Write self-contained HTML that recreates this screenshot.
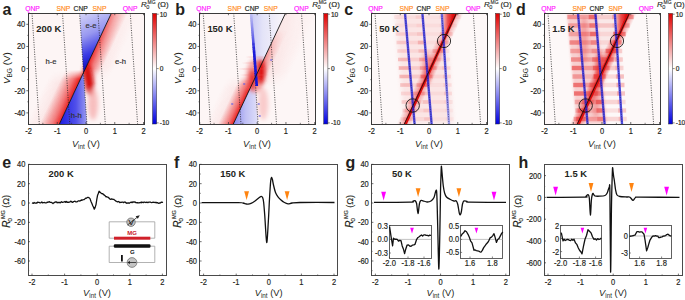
<!DOCTYPE html>
<html><head><meta charset="utf-8"><style>
html,body{margin:0;padding:0;background:#fff;overflow:hidden;}
svg{display:block;font-family:"Liberation Sans", sans-serif;}
</style></head><body>
<svg width="685" height="300" viewBox="0 0 685 300">
<defs><linearGradient id="cbgrad" x1="0" y1="0" x2="0" y2="1"><stop offset="0" stop-color="#e00000"/><stop offset="0.5" stop-color="#ffffff"/><stop offset="1" stop-color="#0000e0"/></linearGradient><linearGradient id="bwUp" x1="0" y1="0" x2="0.25" y2="1"><stop offset="0" stop-color="#d6d6f8"/><stop offset="0.4" stop-color="#9898f0"/><stop offset="0.7" stop-color="#3c3ce4"/><stop offset="1" stop-color="#0000b8"/></linearGradient><linearGradient id="bwUpB" x1="0" y1="0" x2="1" y2="0"><stop offset="0" stop-color="#c8c8f4"/><stop offset="0.35" stop-color="#e4e4f8"/><stop offset="1" stop-color="#fbf6fa"/></linearGradient><linearGradient id="bwLoB" x1="0" y1="0" x2="1" y2="0"><stop offset="0" stop-color="#8888ee"/><stop offset="0.5" stop-color="#c0c0f4"/><stop offset="1" stop-color="#e0e0fa"/></linearGradient><linearGradient id="bStreak" gradientUnits="userSpaceOnUse" x1="0" y1="13" x2="0" y2="86"><stop offset="0" stop-color="#c4c4f4"/><stop offset="0.3" stop-color="#7070ea"/><stop offset="0.55" stop-color="#1c1cdc"/><stop offset="1" stop-color="#1818d8"/></linearGradient><linearGradient id="bwLo" x1="0" y1="0" x2="1" y2="0"><stop offset="0" stop-color="#1c1ce0"/><stop offset="0.6" stop-color="#5050ea"/><stop offset="1" stop-color="#9c9cf0"/></linearGradient><linearGradient id="streakGrad" x1="0" y1="0" x2="1" y2="0"><stop offset="0" stop-color="#f08080" stop-opacity="0"/><stop offset="0.2" stop-color="#f06060"/><stop offset="0.8" stop-color="#f06060"/><stop offset="1" stop-color="#f08080" stop-opacity="0"/></linearGradient><linearGradient id="fadeBlue" gradientUnits="userSpaceOnUse" x1="0" y1="13" x2="0" y2="124"><stop offset="0" stop-color="#4a4ae8"/><stop offset="0.35" stop-color="#2424e4"/><stop offset="0.55" stop-color="#3a3ae6"/><stop offset="1" stop-color="#9a9af0"/></linearGradient><filter id="blurS" x="-50%" y="-50%" width="200%" height="200%"><feGaussianBlur stdDeviation="0.6"/></filter><filter id="blur1" x="-50%" y="-50%" width="200%" height="200%"><feGaussianBlur stdDeviation="1"/></filter><filter id="blur2" x="-50%" y="-50%" width="200%" height="200%"><feGaussianBlur stdDeviation="2"/></filter><filter id="blur3" x="-50%" y="-50%" width="200%" height="200%"><feGaussianBlur stdDeviation="3.5"/></filter><clipPath id="clipTop0"><rect x="28.5" y="13.2" width="116.0" height="110.8"/></clipPath><clipPath id="clipTop171"><rect x="199.7" y="13.2" width="116.0" height="110.8"/></clipPath><clipPath id="clipTop343"><rect x="371.5" y="13.2" width="116.0" height="110.8"/></clipPath><clipPath id="clipTop516"><rect x="544.5" y="13.2" width="116.0" height="110.8"/></clipPath><linearGradient id="ng1" gradientUnits="userSpaceOnUse" x1="95.09" y1="47.95" x2="118.63" y2="59"><stop offset="0" stop-color="#f4a8a8" stop-opacity="0.45"/><stop offset="0.35" stop-color="#f4a8a8" stop-opacity="0.24750000000000003"/><stop offset="1" stop-color="#f4a8a8" stop-opacity="0"/></linearGradient><linearGradient id="vg1" gradientUnits="userSpaceOnUse" x1="0" y1="13.2" x2="0" y2="82.7"><stop offset="0" stop-color="#fff" stop-opacity="0.4"/><stop offset="0.77" stop-color="#fff" stop-opacity="1"/><stop offset="1" stop-color="#fff" stop-opacity="0"/></linearGradient><mask id="mk1" maskUnits="userSpaceOnUse" x="0" y="0" width="685" height="300"><rect x="0" y="13.2" width="685" height="69.5" fill="url(#vg1)"/></mask><linearGradient id="ng2" gradientUnits="userSpaceOnUse" x1="71.91" y1="97.35" x2="44.75" y2="84.6"><stop offset="0" stop-color="#f4a8a8" stop-opacity="0.55"/><stop offset="0.35" stop-color="#f4a8a8" stop-opacity="0.30250000000000005"/><stop offset="1" stop-color="#f4a8a8" stop-opacity="0"/></linearGradient><linearGradient id="vg2" gradientUnits="userSpaceOnUse" x1="0" y1="70.7" x2="0" y2="124"><stop offset="0" stop-color="#fff" stop-opacity="0"/><stop offset="0.23" stop-color="#fff" stop-opacity="1"/><stop offset="1" stop-color="#fff" stop-opacity="0.8"/></linearGradient><mask id="mk2" maskUnits="userSpaceOnUse" x="0" y="0" width="685" height="300"><rect x="0" y="70.7" width="685" height="53.3" fill="url(#vg2)"/></mask><linearGradient id="ng3" gradientUnits="userSpaceOnUse" x1="95.56" y1="46.95" x2="109.14" y2="53.32"><stop offset="0" stop-color="#ea1a1a" stop-opacity="1.0"/><stop offset="0.35" stop-color="#ea1a1a" stop-opacity="0.55"/><stop offset="1" stop-color="#ea1a1a" stop-opacity="0"/></linearGradient><linearGradient id="vg3" gradientUnits="userSpaceOnUse" x1="0" y1="13.2" x2="0" y2="80.7"><stop offset="0" stop-color="#fff" stop-opacity="0.5"/><stop offset="0.47" stop-color="#fff" stop-opacity="0.8"/><stop offset="0.82" stop-color="#fff" stop-opacity="1"/><stop offset="1" stop-color="#fff" stop-opacity="0"/></linearGradient><mask id="mk3" maskUnits="userSpaceOnUse" x="0" y="0" width="685" height="300"><rect x="0" y="13.2" width="685" height="67.5" fill="url(#vg3)"/></mask><linearGradient id="ng4" gradientUnits="userSpaceOnUse" x1="72.14" y1="96.85" x2="55.85" y2="89.2"><stop offset="0" stop-color="#ea1a1a" stop-opacity="1.0"/><stop offset="0.35" stop-color="#ea1a1a" stop-opacity="0.55"/><stop offset="1" stop-color="#ea1a1a" stop-opacity="0"/></linearGradient><linearGradient id="vg4" gradientUnits="userSpaceOnUse" x1="0" y1="69.7" x2="0" y2="124"><stop offset="0" stop-color="#fff" stop-opacity="0"/><stop offset="0.17" stop-color="#fff" stop-opacity="1"/><stop offset="1" stop-color="#fff" stop-opacity="0.9"/></linearGradient><mask id="mk4" maskUnits="userSpaceOnUse" x="0" y="0" width="685" height="300"><rect x="0" y="69.7" width="685" height="54.3" fill="url(#vg4)"/></mask><linearGradient id="ng5" gradientUnits="userSpaceOnUse" x1="267.92" y1="50.51" x2="295.06" y2="63.29"><stop offset="0" stop-color="#f6b8b8" stop-opacity="0.5"/><stop offset="0.35" stop-color="#f6b8b8" stop-opacity="0.275"/><stop offset="1" stop-color="#f6b8b8" stop-opacity="0"/></linearGradient><linearGradient id="vg5" gradientUnits="userSpaceOnUse" x1="0" y1="13.2" x2="0" y2="87.82"><stop offset="0" stop-color="#fff" stop-opacity="0.4"/><stop offset="0.79" stop-color="#fff" stop-opacity="1"/><stop offset="1" stop-color="#fff" stop-opacity="0"/></linearGradient><mask id="mk5" maskUnits="userSpaceOnUse" x="0" y="0" width="685" height="300"><rect x="0" y="13.2" width="685" height="74.62" fill="url(#vg5)"/></mask><linearGradient id="ng6" gradientUnits="userSpaceOnUse" x1="264.91" y1="56.91" x2="273.95" y2="61.17"><stop offset="0" stop-color="#ea2a2a" stop-opacity="0.9"/><stop offset="0.35" stop-color="#ea2a2a" stop-opacity="0.49500000000000005"/><stop offset="1" stop-color="#ea2a2a" stop-opacity="0"/></linearGradient><linearGradient id="vg6" gradientUnits="userSpaceOnUse" x1="0" y1="30" x2="0" y2="83.82"><stop offset="0" stop-color="#fff" stop-opacity="0"/><stop offset="0.67" stop-color="#fff" stop-opacity="0.7"/><stop offset="0.85" stop-color="#fff" stop-opacity="1"/><stop offset="1" stop-color="#fff" stop-opacity="0"/></linearGradient><mask id="mk6" maskUnits="userSpaceOnUse" x="0" y="0" width="685" height="300"><rect x="0" y="30" width="685" height="53.82" fill="url(#vg6)"/></mask><linearGradient id="ng7" gradientUnits="userSpaceOnUse" x1="244.65" y1="99.91" x2="221.13" y2="88.83"><stop offset="0" stop-color="#f4a8a8" stop-opacity="0.45"/><stop offset="0.35" stop-color="#f4a8a8" stop-opacity="0.24750000000000003"/><stop offset="1" stop-color="#f4a8a8" stop-opacity="0"/></linearGradient><linearGradient id="vg7" gradientUnits="userSpaceOnUse" x1="0" y1="75.82" x2="0" y2="124"><stop offset="0" stop-color="#fff" stop-opacity="0"/><stop offset="0.25" stop-color="#fff" stop-opacity="1"/><stop offset="1" stop-color="#fff" stop-opacity="0.9"/></linearGradient><mask id="mk7" maskUnits="userSpaceOnUse" x="0" y="0" width="685" height="300"><rect x="0" y="75.82" width="685" height="48.18" fill="url(#vg7)"/></mask><linearGradient id="ng8" gradientUnits="userSpaceOnUse" x1="244.89" y1="99.41" x2="232.22" y2="93.44"><stop offset="0" stop-color="#ea1a1a" stop-opacity="1.0"/><stop offset="0.35" stop-color="#ea1a1a" stop-opacity="0.55"/><stop offset="1" stop-color="#ea1a1a" stop-opacity="0"/></linearGradient><linearGradient id="vg8" gradientUnits="userSpaceOnUse" x1="0" y1="74.82" x2="0" y2="124"><stop offset="0" stop-color="#fff" stop-opacity="0"/><stop offset="0.18" stop-color="#fff" stop-opacity="1"/><stop offset="1" stop-color="#fff" stop-opacity="0.95"/></linearGradient><mask id="mk8" maskUnits="userSpaceOnUse" x="0" y="0" width="685" height="300"><rect x="0" y="74.82" width="685" height="49.18" fill="url(#vg8)"/></mask><linearGradient id="ng9" gradientUnits="userSpaceOnUse" x1="430.35" y1="68.6" x2="436.68" y2="71.58"><stop offset="0" stop-color="#e41c1c" stop-opacity="0.658"/><stop offset="0.35" stop-color="#e41c1c" stop-opacity="0.36190000000000005"/><stop offset="1" stop-color="#e41c1c" stop-opacity="0"/></linearGradient><linearGradient id="vg9" gradientUnits="userSpaceOnUse" x1="0" y1="13.2" x2="0" y2="124"><stop offset="0" stop-color="#fff" stop-opacity="0.5"/><stop offset="0.49" stop-color="#fff" stop-opacity="1"/><stop offset="1" stop-color="#fff" stop-opacity="0.6"/></linearGradient><mask id="mk9" maskUnits="userSpaceOnUse" x="0" y="0" width="685" height="300"><rect x="0" y="13.2" width="685" height="110.8" fill="url(#vg9)"/></mask><linearGradient id="ng10" gradientUnits="userSpaceOnUse" x1="430.35" y1="68.6" x2="424.02" y2="65.62"><stop offset="0" stop-color="#e41c1c" stop-opacity="0.658"/><stop offset="0.35" stop-color="#e41c1c" stop-opacity="0.36190000000000005"/><stop offset="1" stop-color="#e41c1c" stop-opacity="0"/></linearGradient><linearGradient id="vg10" gradientUnits="userSpaceOnUse" x1="0" y1="13.2" x2="0" y2="124"><stop offset="0" stop-color="#fff" stop-opacity="0.5"/><stop offset="0.49" stop-color="#fff" stop-opacity="1"/><stop offset="1" stop-color="#fff" stop-opacity="0.6"/></linearGradient><mask id="mk10" maskUnits="userSpaceOnUse" x="0" y="0" width="685" height="300"><rect x="0" y="13.2" width="685" height="110.8" fill="url(#vg10)"/></mask><linearGradient id="wg11" gradientUnits="userSpaceOnUse" x1="453.2" y1="20" x2="442.24" y2="20"><stop offset="0" stop-color="#e01010"/><stop offset="0.5" stop-color="#ec5050"/><stop offset="1" stop-color="#f4a8a8" stop-opacity="0.6"/></linearGradient><linearGradient id="ng12" gradientUnits="userSpaceOnUse" x1="603.35" y1="68.6" x2="609.68" y2="71.58"><stop offset="0" stop-color="#e41c1c" stop-opacity="1.0"/><stop offset="0.35" stop-color="#e41c1c" stop-opacity="0.55"/><stop offset="1" stop-color="#e41c1c" stop-opacity="0"/></linearGradient><linearGradient id="vg12" gradientUnits="userSpaceOnUse" x1="0" y1="13.2" x2="0" y2="124"><stop offset="0" stop-color="#fff" stop-opacity="0.5"/><stop offset="0.49" stop-color="#fff" stop-opacity="1"/><stop offset="1" stop-color="#fff" stop-opacity="0.6"/></linearGradient><mask id="mk12" maskUnits="userSpaceOnUse" x="0" y="0" width="685" height="300"><rect x="0" y="13.2" width="685" height="110.8" fill="url(#vg12)"/></mask><linearGradient id="ng13" gradientUnits="userSpaceOnUse" x1="603.35" y1="68.6" x2="597.02" y2="65.62"><stop offset="0" stop-color="#e41c1c" stop-opacity="1.0"/><stop offset="0.35" stop-color="#e41c1c" stop-opacity="0.55"/><stop offset="1" stop-color="#e41c1c" stop-opacity="0"/></linearGradient><linearGradient id="vg13" gradientUnits="userSpaceOnUse" x1="0" y1="13.2" x2="0" y2="124"><stop offset="0" stop-color="#fff" stop-opacity="0.5"/><stop offset="0.49" stop-color="#fff" stop-opacity="1"/><stop offset="1" stop-color="#fff" stop-opacity="0.6"/></linearGradient><mask id="mk13" maskUnits="userSpaceOnUse" x="0" y="0" width="685" height="300"><rect x="0" y="13.2" width="685" height="110.8" fill="url(#vg13)"/></mask><linearGradient id="wg14" gradientUnits="userSpaceOnUse" x1="626.2" y1="20" x2="615.24" y2="20"><stop offset="0" stop-color="#e01010"/><stop offset="0.5" stop-color="#ec5050"/><stop offset="1" stop-color="#f4a8a8" stop-opacity="0.6"/></linearGradient></defs>
<rect width="685" height="300" fill="#fff"/>
<g clip-path="url(#clipTop0)">
<rect x="28.5" y="13.2" width="116.0" height="110.8" fill="#fdf5f5"/>
<path d="M111.4,13.2 L78.78,82.7 L120.38,82.7 L153,13.2 Z" fill="url(#ng1)" mask="url(#mk1)"/>
<path d="M84.41,70.7 L59.4,124 L11.4,124 L36.41,70.7 Z" fill="url(#ng2)" mask="url(#mk2)"/>
<path d="M111.4,13.2 L79.72,80.7 L103.72,80.7 L135.4,13.2 Z" fill="url(#ng3)" mask="url(#mk3)"/>
<path d="M84.88,69.7 L59.4,124 L30.6,124 L56.08,69.7 Z" fill="url(#ng4)" mask="url(#mk4)"/>
<g filter="url(#blur2)">
<ellipse cx="88.8" cy="80" rx="4.8" ry="16" fill="#d40808" transform="rotate(-8 88.8 80)"/>
<ellipse cx="93" cy="104" rx="5" ry="16" fill="#f6b0b0" opacity="0.8"/>
</g>
<path d="M79.6,13.2 L111.4,13.2 L83.48,72.7Z" fill="url(#bwUp)" />
<path d="M83.48,72.7 L59.4,124 L86.9,124Z" fill="url(#bwLo)" />
<line x1="32" y1="13.2" x2="39.3" y2="124.0" stroke="#222" stroke-width="0.75" stroke-dasharray="1.1,1.3"/>
<line x1="62.5" y1="13.2" x2="69.8" y2="124.0" stroke="#222" stroke-width="0.75" stroke-dasharray="1.1,1.3"/>
<line x1="79.6" y1="13.2" x2="86.9" y2="124.0" stroke="#222" stroke-width="0.75" stroke-dasharray="1.1,1.3"/>
<line x1="98" y1="13.2" x2="105.3" y2="124.0" stroke="#222" stroke-width="0.75" stroke-dasharray="1.1,1.3"/>
<line x1="130.3" y1="13.2" x2="137.6" y2="124.0" stroke="#222" stroke-width="0.75" stroke-dasharray="1.1,1.3"/>
<line x1="111.4" y1="13.2" x2="59.4" y2="124.0" stroke="#111" stroke-width="0.9"/>
<text x="85.6" y="27.6" font-size="7.6" text-anchor="start" font-weight="normal" fill="#333" stroke="#333" stroke-width="0.18" font-style="normal" >e-e</text>
<text x="45.6" y="64.4" font-size="7.6" text-anchor="start" font-weight="normal" fill="#333" stroke="#333" stroke-width="0.18" font-style="normal" >h-e</text>
<text x="115" y="64.4" font-size="7.6" text-anchor="start" font-weight="normal" fill="#333" stroke="#333" stroke-width="0.18" font-style="normal" >e-h</text>
<text x="70.8" y="117.8" font-size="7.6" text-anchor="start" font-weight="normal" fill="#333" stroke="#333" stroke-width="0.18" font-style="normal" >h-h</text>
</g>
<g clip-path="url(#clipTop171)">
<rect x="199.7" y="13.2" width="116.0" height="110.8" fill="#fdf6f6"/>
<path d="M250.8,13.2 L285.5,13.2 L255.06,77.82Z" fill="url(#bwUpB)" />
<path d="M255.06,77.82 L233.3,124 L258.1,124Z" fill="url(#bwLoB)" />
<path d="M285.5,13.2 L250.35,87.82 L298.35,87.82 L333.5,13.2 Z" fill="url(#ng5)" mask="url(#mk5)"/>
<path d="M277.59,30 L252.23,83.82 L268.23,83.82 L293.59,30 Z" fill="url(#ng6)" mask="url(#mk6)"/>
<path d="M256,75.82 L233.3,124 L191.7,124 L214.4,75.82 Z" fill="url(#ng7)" mask="url(#mk7)"/>
<path d="M256.47,74.82 L233.3,124 L210.9,124 L234.07,74.82 Z" fill="url(#ng8)" mask="url(#mk8)"/>
<g filter="url(#blur2)">
<ellipse cx="255.2" cy="76" rx="9" ry="17" fill="#f28a8a" opacity="0.75"/>
<ellipse cx="260.7" cy="72" rx="4.2" ry="13" fill="#dc0c0c"/>
<ellipse cx="252.2" cy="80" rx="3.6" ry="11" fill="#e42020" opacity="0.9"/>
<ellipse cx="263.2" cy="104" rx="5" ry="16" fill="#f7c0c0" opacity="0.8"/>
</g>
<rect x="245.2" y="56" width="22" height="2" fill="url(#streakGrad)" opacity="0.1"/>
<rect x="241.2" y="62" width="28" height="2" fill="url(#streakGrad)" opacity="0.12"/>
<rect x="237.2" y="68" width="32" height="2" fill="url(#streakGrad)" opacity="0.14"/>
<rect x="239.2" y="74" width="30" height="2" fill="url(#streakGrad)" opacity="0.14"/>
<rect x="241.2" y="80" width="26" height="2" fill="url(#streakGrad)" opacity="0.12"/>
<rect x="243.2" y="87" width="20" height="2" fill="url(#streakGrad)" opacity="0.1"/>
<line x1="203.2" y1="13.2" x2="210.5" y2="124.0" stroke="#222" stroke-width="0.75" stroke-dasharray="1.1,1.3"/>
<line x1="233.7" y1="13.2" x2="241" y2="124.0" stroke="#222" stroke-width="0.75" stroke-dasharray="1.1,1.3"/>
<line x1="250.8" y1="13.2" x2="258.1" y2="124.0" stroke="#222" stroke-width="0.75" stroke-dasharray="1.1,1.3"/>
<line x1="269.2" y1="13.2" x2="276.5" y2="124.0" stroke="#222" stroke-width="0.75" stroke-dasharray="1.1,1.3"/>
<line x1="301.5" y1="13.2" x2="308.8" y2="124.0" stroke="#222" stroke-width="0.75" stroke-dasharray="1.1,1.3"/>
<path d="M251,13 L256.8,86" stroke="url(#bStreak)" stroke-width="2.6" fill="none" filter="url(#blurS)"/>
<path d="M253.4,43 L256.8,86" stroke="#0a0ad0" stroke-width="2.6" fill="none" stroke-dasharray="2.2,1.6" opacity="0.25"/>
<rect x="257.7" y="103" width="2" height="2" fill="#6060e8" opacity="0.6"/>
<rect x="258.7" y="115" width="2" height="2" fill="#6060e8" opacity="0.6"/>
<rect x="243.2" y="83" width="2" height="2" fill="#6060e8" opacity="0.6"/>
<rect x="231.2" y="103" width="2" height="2" fill="#6060e8" opacity="0.6"/>
<rect x="270.2" y="59" width="2" height="2" fill="#6060e8" opacity="0.6"/>
<line x1="285.5" y1="13.2" x2="233.3" y2="124.0" stroke="#111" stroke-width="0.9"/>
</g>
<g clip-path="url(#clipTop343)">
<rect x="371.5" y="13.2" width="116.0" height="110.8" fill="#fdf8f8"/>
<path d="M395,13.2 L445.8,13.2 L453,124 L404.6,124Z" fill="#f6c4c4" opacity="0.35" filter="url(#blur2)"/>
<g filter="url(#blurS)">
<rect x="394.33" y="15.2" width="12" height="3.6" fill="#e83838" opacity="0.08"/>
<rect x="406.33" y="15.2" width="15.39" height="3.6" fill="#e83838" opacity="0.04"/>
<rect x="415.72" y="15.2" width="8" height="3.6" fill="#e83838" opacity="0.1"/>
<rect x="423.72" y="15.2" width="17.33" height="3.6" fill="#e83838" opacity="0.02"/>
<rect x="439.05" y="15.2" width="8" height="3.6" fill="#e83838" opacity="0.05"/>
<rect x="448.61" y="15.2" width="12" height="3.6" fill="#e83838" opacity="0.08"/>
<rect x="395.07" y="23.7" width="12" height="3.6" fill="#e83838" opacity="0.07"/>
<rect x="407.07" y="23.7" width="15.36" height="3.6" fill="#e83838" opacity="0.07"/>
<rect x="416.42" y="23.7" width="8" height="3.6" fill="#e83838" opacity="0.06"/>
<rect x="424.42" y="23.7" width="17.18" height="3.6" fill="#e83838" opacity="0.04"/>
<rect x="439.6" y="23.7" width="8" height="3.6" fill="#e83838" opacity="0.04"/>
<rect x="444.62" y="23.7" width="12" height="3.6" fill="#e83838" opacity="0.07"/>
<rect x="395.8" y="32.2" width="12" height="3.6" fill="#e83838" opacity="0.14"/>
<rect x="407.8" y="32.2" width="15.32" height="3.6" fill="#e83838" opacity="0.11"/>
<rect x="417.13" y="32.2" width="8" height="3.6" fill="#e83838" opacity="0.09"/>
<rect x="425.13" y="32.2" width="17.02" height="3.6" fill="#e83838" opacity="0.04"/>
<rect x="440.15" y="32.2" width="8" height="3.6" fill="#e83838" opacity="0.08"/>
<rect x="440.62" y="32.2" width="12" height="3.6" fill="#e83838" opacity="0.17"/>
<rect x="396.54" y="40.7" width="12" height="3.6" fill="#e83838" opacity="0.19"/>
<rect x="408.54" y="40.7" width="15.29" height="3.6" fill="#e83838" opacity="0.1"/>
<rect x="417.83" y="40.7" width="8" height="3.6" fill="#e83838" opacity="0.22"/>
<rect x="425.83" y="40.7" width="16.87" height="3.6" fill="#e83838" opacity="0.04"/>
<rect x="440.7" y="40.7" width="8" height="3.6" fill="#e83838" opacity="0.11"/>
<rect x="436.62" y="40.7" width="12" height="3.6" fill="#e83838" opacity="0.13"/>
<rect x="397.28" y="49.2" width="12" height="3.6" fill="#e83838" opacity="0.15"/>
<rect x="409.28" y="49.2" width="15.26" height="3.6" fill="#e83838" opacity="0.09"/>
<rect x="418.54" y="49.2" width="8" height="3.6" fill="#e83838" opacity="0.16"/>
<rect x="426.54" y="49.2" width="16.72" height="3.6" fill="#e83838" opacity="0.09"/>
<rect x="441.26" y="49.2" width="8" height="3.6" fill="#e83838" opacity="0.08"/>
<rect x="432.63" y="49.2" width="12" height="3.6" fill="#e83838" opacity="0.2"/>
<rect x="398.01" y="57.7" width="12" height="3.6" fill="#e83838" opacity="0.27"/>
<rect x="410.01" y="57.7" width="15.23" height="3.6" fill="#e83838" opacity="0.13"/>
<rect x="419.24" y="57.7" width="8" height="3.6" fill="#e83838" opacity="0.23"/>
<rect x="427.24" y="57.7" width="16.56" height="3.6" fill="#e83838" opacity="0.06"/>
<rect x="441.81" y="57.7" width="8" height="3.6" fill="#e83838" opacity="0.08"/>
<rect x="428.63" y="57.7" width="12" height="3.6" fill="#e83838" opacity="0.17"/>
<rect x="398.75" y="66.2" width="12" height="3.6" fill="#e83838" opacity="0.32"/>
<rect x="410.75" y="66.2" width="15.2" height="3.6" fill="#e83838" opacity="0.16"/>
<rect x="419.95" y="66.2" width="8" height="3.6" fill="#e83838" opacity="0.21"/>
<rect x="427.95" y="66.2" width="16.41" height="3.6" fill="#e83838" opacity="0.11"/>
<rect x="442.36" y="66.2" width="8" height="3.6" fill="#e83838" opacity="0.13"/>
<rect x="424.63" y="66.2" width="12" height="3.6" fill="#e83838" opacity="0.21"/>
<rect x="399.48" y="74.7" width="12" height="3.6" fill="#e83838" opacity="0.3"/>
<rect x="411.48" y="74.7" width="15.17" height="3.6" fill="#e83838" opacity="0.17"/>
<rect x="420.66" y="74.7" width="8" height="3.6" fill="#e83838" opacity="0.18"/>
<rect x="428.66" y="74.7" width="16.26" height="3.6" fill="#e83838" opacity="0.09"/>
<rect x="442.91" y="74.7" width="8" height="3.6" fill="#e83838" opacity="0.12"/>
<rect x="420.64" y="74.7" width="12" height="3.6" fill="#e83838" opacity="0.28"/>
<rect x="400.22" y="83.2" width="12" height="3.6" fill="#e83838" opacity="0.25"/>
<rect x="412.22" y="83.2" width="15.14" height="3.6" fill="#e83838" opacity="0.11"/>
<rect x="421.36" y="83.2" width="8" height="3.6" fill="#e83838" opacity="0.26"/>
<rect x="429.36" y="83.2" width="16.1" height="3.6" fill="#e83838" opacity="0.05"/>
<rect x="443.47" y="83.2" width="8" height="3.6" fill="#e83838" opacity="0.1"/>
<rect x="416.64" y="83.2" width="12" height="3.6" fill="#e83838" opacity="0.23"/>
<rect x="400.96" y="91.7" width="12" height="3.6" fill="#e83838" opacity="0.13"/>
<rect x="412.96" y="91.7" width="15.11" height="3.6" fill="#e83838" opacity="0.11"/>
<rect x="422.07" y="91.7" width="8" height="3.6" fill="#e83838" opacity="0.1"/>
<rect x="430.07" y="91.7" width="15.95" height="3.6" fill="#e83838" opacity="0.07"/>
<rect x="444.02" y="91.7" width="8" height="3.6" fill="#e83838" opacity="0.11"/>
<rect x="412.64" y="91.7" width="12" height="3.6" fill="#e83838" opacity="0.17"/>
<rect x="401.69" y="100.2" width="12" height="3.6" fill="#e83838" opacity="0.19"/>
<rect x="413.69" y="100.2" width="15.08" height="3.6" fill="#e83838" opacity="0.07"/>
<rect x="422.77" y="100.2" width="8" height="3.6" fill="#e83838" opacity="0.15"/>
<rect x="430.77" y="100.2" width="15.8" height="3.6" fill="#e83838" opacity="0.06"/>
<rect x="444.57" y="100.2" width="8" height="3.6" fill="#e83838" opacity="0.08"/>
<rect x="408.64" y="100.2" width="12" height="3.6" fill="#e83838" opacity="0.12"/>
<rect x="402.43" y="108.7" width="12" height="3.6" fill="#e83838" opacity="0.14"/>
<rect x="414.43" y="108.7" width="15.05" height="3.6" fill="#e83838" opacity="0.09"/>
<rect x="423.48" y="108.7" width="8" height="3.6" fill="#e83838" opacity="0.1"/>
<rect x="431.48" y="108.7" width="15.64" height="3.6" fill="#e83838" opacity="0.04"/>
<rect x="445.12" y="108.7" width="8" height="3.6" fill="#e83838" opacity="0.04"/>
<rect x="404.65" y="108.7" width="12" height="3.6" fill="#e83838" opacity="0.11"/>
<rect x="403.17" y="117.2" width="12" height="3.6" fill="#e83838" opacity="0.11"/>
<rect x="415.17" y="117.2" width="15.02" height="3.6" fill="#e83838" opacity="0.08"/>
<rect x="424.18" y="117.2" width="8" height="3.6" fill="#e83838" opacity="0.11"/>
<rect x="432.18" y="117.2" width="15.49" height="3.6" fill="#e83838" opacity="0.03"/>
<rect x="445.68" y="117.2" width="8" height="3.6" fill="#e83838" opacity="0.04"/>
<rect x="400.65" y="117.2" width="12" height="3.6" fill="#e83838" opacity="0.1"/>
</g>
<path d="M456.4,13.2 L404.3,124 L415.5,124 L467.6,13.2 Z" fill="url(#ng9)" mask="url(#mk9)"/>
<path d="M456.4,13.2 L404.3,124 L393.1,124 L445.2,13.2 Z" fill="url(#ng10)" mask="url(#mk10)"/>
<g filter="url(#blur2)">
<ellipse cx="427" cy="68" rx="4.5" ry="16" fill="#e83030" opacity="0.43"/>
</g>
<path d="M442.8,13.2 L456.4,13.2 L443.33,41 L444.61,41 Z" fill="url(#wg11)" filter="url(#blurS)"/>
<line x1="456.7" y1="11.2" x2="404.6" y2="126.0" stroke="#dc0c0c" stroke-width="2.8" filter="url(#blurS)"/>
<line x1="375" y1="13.2" x2="382.3" y2="124.0" stroke="#222" stroke-width="0.75" stroke-dasharray="1.1,1.3"/>
<line x1="473.3" y1="13.2" x2="480.6" y2="124.0" stroke="#222" stroke-width="0.75" stroke-dasharray="1.1,1.3"/>
<path d="M404.83,11.2 L414.77,126.0" stroke="#2222e2" stroke-width="2.4" fill="none" opacity="0.78" filter="url(#blurS)"/>
<path d="M422.23,11.2 L431.77,126.0" stroke="#2222e2" stroke-width="2.4" fill="none" opacity="0.78" filter="url(#blurS)"/>
<path d="M441.67,11.2 L449.13,126.0" stroke="url(#fadeBlue)" stroke-width="2.4" fill="none" opacity="0.78" filter="url(#blurS)"/>
<line x1="405" y1="13.2" x2="414.6" y2="124.0" stroke="#1a1a60" stroke-width="0.7" stroke-dasharray="1.1,1.3" opacity="0.8"/>
<line x1="422.4" y1="13.2" x2="431.6" y2="124.0" stroke="#1a1a60" stroke-width="0.7" stroke-dasharray="1.1,1.3" opacity="0.8"/>
<line x1="441.8" y1="13.2" x2="449" y2="124.0" stroke="#1a1a60" stroke-width="0.7" stroke-dasharray="1.1,1.3" opacity="0.8"/>
<line x1="456.4" y1="13.2" x2="404.3" y2="124.0" stroke="#111" stroke-width="0.8"/>
<circle cx="444" cy="41" r="6.6" fill="none" stroke="#111" stroke-width="0.85"/>
<circle cx="412.7" cy="105.5" r="6.7" fill="none" stroke="#111" stroke-width="0.85"/>
</g>
<g clip-path="url(#clipTop516)">
<rect x="544.5" y="13.2" width="116.0" height="110.8" fill="#fdf8f8"/>
<path d="M567,13.2 L597.4,13.2 L606.6,124 L576.6,124Z" fill="#f4b4b4" opacity="0.6" filter="url(#blur1)"/>
<path d="M595.4,13.2 L616.8,13.2 L620.49,70 L600.12,70Z" fill="#f6c4c4" opacity="0.3" filter="url(#blur2)"/>
<g filter="url(#blurS)">
<rect x="567.33" y="14.8" width="12" height="4.4" fill="#e83838" opacity="0.43"/>
<rect x="579.33" y="14.8" width="15.39" height="4.4" fill="#e83838" opacity="0.28"/>
<rect x="588.72" y="14.8" width="8" height="4.4" fill="#e83838" opacity="0.54"/>
<rect x="596.72" y="14.8" width="17.33" height="4.4" fill="#e83838" opacity="0.16"/>
<rect x="612.05" y="14.8" width="8" height="4.4" fill="#e83838" opacity="0.23"/>
<rect x="621.61" y="14.8" width="12" height="4.4" fill="#e83838" opacity="0.43"/>
<rect x="568.07" y="23.3" width="12" height="4.4" fill="#e83838" opacity="0.34"/>
<rect x="580.07" y="23.3" width="15.36" height="4.4" fill="#e83838" opacity="0.27"/>
<rect x="589.42" y="23.3" width="8" height="4.4" fill="#e83838" opacity="0.45"/>
<rect x="597.42" y="23.3" width="17.18" height="4.4" fill="#e83838" opacity="0.2"/>
<rect x="612.6" y="23.3" width="8" height="4.4" fill="#e83838" opacity="0.15"/>
<rect x="617.62" y="23.3" width="12" height="4.4" fill="#e83838" opacity="0.34"/>
<rect x="568.8" y="31.8" width="12" height="4.4" fill="#e83838" opacity="0.31"/>
<rect x="580.8" y="31.8" width="15.32" height="4.4" fill="#e83838" opacity="0.34"/>
<rect x="590.13" y="31.8" width="8" height="4.4" fill="#e83838" opacity="0.47"/>
<rect x="598.13" y="31.8" width="17.02" height="4.4" fill="#e83838" opacity="0.1"/>
<rect x="613.15" y="31.8" width="8" height="4.4" fill="#e83838" opacity="0.31"/>
<rect x="613.62" y="31.8" width="12" height="4.4" fill="#e83838" opacity="0.55"/>
<rect x="569.54" y="40.3" width="12" height="4.4" fill="#e83838" opacity="0.5"/>
<rect x="581.54" y="40.3" width="15.29" height="4.4" fill="#e83838" opacity="0.29"/>
<rect x="590.83" y="40.3" width="8" height="4.4" fill="#e83838" opacity="0.3"/>
<rect x="598.83" y="40.3" width="16.87" height="4.4" fill="#e83838" opacity="0.1"/>
<rect x="613.7" y="40.3" width="8" height="4.4" fill="#e83838" opacity="0.23"/>
<rect x="609.62" y="40.3" width="12" height="4.4" fill="#e83838" opacity="0.27"/>
<rect x="570.28" y="48.8" width="12" height="4.4" fill="#e83838" opacity="0.34"/>
<rect x="582.28" y="48.8" width="15.26" height="4.4" fill="#e83838" opacity="0.22"/>
<rect x="591.54" y="48.8" width="8" height="4.4" fill="#e83838" opacity="0.26"/>
<rect x="599.54" y="48.8" width="16.72" height="4.4" fill="#e83838" opacity="0.16"/>
<rect x="614.26" y="48.8" width="8" height="4.4" fill="#e83838" opacity="0.21"/>
<rect x="605.63" y="48.8" width="12" height="4.4" fill="#e83838" opacity="0.51"/>
<rect x="571.01" y="57.3" width="12" height="4.4" fill="#e83838" opacity="0.46"/>
<rect x="583.01" y="57.3" width="15.23" height="4.4" fill="#e83838" opacity="0.3"/>
<rect x="592.24" y="57.3" width="8" height="4.4" fill="#e83838" opacity="0.4"/>
<rect x="600.24" y="57.3" width="16.56" height="4.4" fill="#e83838" opacity="0.18"/>
<rect x="614.81" y="57.3" width="8" height="4.4" fill="#e83838" opacity="0.22"/>
<rect x="601.63" y="57.3" width="12" height="4.4" fill="#e83838" opacity="0.34"/>
<rect x="571.75" y="65.8" width="12" height="4.4" fill="#e83838" opacity="0.62"/>
<rect x="583.75" y="65.8" width="15.2" height="4.4" fill="#e83838" opacity="0.37"/>
<rect x="592.95" y="65.8" width="8" height="4.4" fill="#e83838" opacity="0.51"/>
<rect x="600.95" y="65.8" width="16.41" height="4.4" fill="#e83838" opacity="0.19"/>
<rect x="615.36" y="65.8" width="8" height="4.4" fill="#e83838" opacity="0.19"/>
<rect x="597.63" y="65.8" width="12" height="4.4" fill="#e83838" opacity="0.32"/>
<rect x="572.48" y="74.3" width="12" height="4.4" fill="#e83838" opacity="0.38"/>
<rect x="584.48" y="74.3" width="15.17" height="4.4" fill="#e83838" opacity="0.18"/>
<rect x="593.66" y="74.3" width="8" height="4.4" fill="#e83838" opacity="0.49"/>
<rect x="601.66" y="74.3" width="16.26" height="4.4" fill="#e83838" opacity="0.15"/>
<rect x="615.91" y="74.3" width="8" height="4.4" fill="#e83838" opacity="0.29"/>
<rect x="593.64" y="74.3" width="12" height="4.4" fill="#e83838" opacity="0.37"/>
<rect x="573.22" y="82.8" width="12" height="4.4" fill="#e83838" opacity="0.61"/>
<rect x="585.22" y="82.8" width="15.14" height="4.4" fill="#e83838" opacity="0.34"/>
<rect x="594.36" y="82.8" width="8" height="4.4" fill="#e83838" opacity="0.25"/>
<rect x="602.36" y="82.8" width="16.1" height="4.4" fill="#e83838" opacity="0.13"/>
<rect x="616.47" y="82.8" width="8" height="4.4" fill="#e83838" opacity="0.3"/>
<rect x="589.64" y="82.8" width="12" height="4.4" fill="#e83838" opacity="0.4"/>
<rect x="573.96" y="91.3" width="12" height="4.4" fill="#e83838" opacity="0.62"/>
<rect x="585.96" y="91.3" width="15.11" height="4.4" fill="#e83838" opacity="0.25"/>
<rect x="595.07" y="91.3" width="8" height="4.4" fill="#e83838" opacity="0.27"/>
<rect x="603.07" y="91.3" width="15.95" height="4.4" fill="#e83838" opacity="0.18"/>
<rect x="617.02" y="91.3" width="8" height="4.4" fill="#e83838" opacity="0.27"/>
<rect x="585.64" y="91.3" width="12" height="4.4" fill="#e83838" opacity="0.33"/>
<rect x="574.69" y="99.8" width="12" height="4.4" fill="#e83838" opacity="0.31"/>
<rect x="586.69" y="99.8" width="15.08" height="4.4" fill="#e83838" opacity="0.23"/>
<rect x="595.77" y="99.8" width="8" height="4.4" fill="#e83838" opacity="0.55"/>
<rect x="603.77" y="99.8" width="15.8" height="4.4" fill="#e83838" opacity="0.19"/>
<rect x="617.57" y="99.8" width="8" height="4.4" fill="#e83838" opacity="0.16"/>
<rect x="581.64" y="99.8" width="12" height="4.4" fill="#e83838" opacity="0.33"/>
<rect x="575.43" y="108.3" width="12" height="4.4" fill="#e83838" opacity="0.31"/>
<rect x="587.43" y="108.3" width="15.05" height="4.4" fill="#e83838" opacity="0.18"/>
<rect x="596.48" y="108.3" width="8" height="4.4" fill="#e83838" opacity="0.5"/>
<rect x="604.48" y="108.3" width="15.64" height="4.4" fill="#e83838" opacity="0.12"/>
<rect x="618.12" y="108.3" width="8" height="4.4" fill="#e83838" opacity="0.24"/>
<rect x="577.65" y="108.3" width="12" height="4.4" fill="#e83838" opacity="0.39"/>
<rect x="576.17" y="116.8" width="12" height="4.4" fill="#e83838" opacity="0.34"/>
<rect x="588.17" y="116.8" width="15.02" height="4.4" fill="#e83838" opacity="0.32"/>
<rect x="597.18" y="116.8" width="8" height="4.4" fill="#e83838" opacity="0.29"/>
<rect x="605.18" y="116.8" width="15.49" height="4.4" fill="#e83838" opacity="0.18"/>
<rect x="618.68" y="116.8" width="8" height="4.4" fill="#e83838" opacity="0.16"/>
<rect x="573.65" y="116.8" width="12" height="4.4" fill="#e83838" opacity="0.38"/>
</g>
<path d="M629.4,13.2 L577.3,124 L588.5,124 L640.6,13.2 Z" fill="url(#ng12)" mask="url(#mk12)"/>
<path d="M629.4,13.2 L577.3,124 L566.1,124 L618.2,13.2 Z" fill="url(#ng13)" mask="url(#mk13)"/>
<g filter="url(#blur2)">
<ellipse cx="600" cy="68" rx="4.5" ry="16" fill="#e83030" opacity="0.7"/>
<ellipse cx="584" cy="40" rx="4" ry="24" fill="#e84040" opacity="0.35"/>
<ellipse cx="596" cy="96" rx="4" ry="22" fill="#e84040" opacity="0.35"/>
</g>
<path d="M615.8,13.2 L629.4,13.2 L616.33,41 L617.61,41 Z" fill="url(#wg14)" filter="url(#blurS)"/>
<line x1="629.7" y1="11.2" x2="577.6" y2="126.0" stroke="#dc0c0c" stroke-width="2.8" filter="url(#blurS)"/>
<line x1="548" y1="13.2" x2="555.3" y2="124.0" stroke="#222" stroke-width="0.75" stroke-dasharray="1.1,1.3"/>
<line x1="646.3" y1="13.2" x2="653.6" y2="124.0" stroke="#222" stroke-width="0.75" stroke-dasharray="1.1,1.3"/>
<path d="M577.83,11.2 L587.77,126.0" stroke="#2222e2" stroke-width="2.4" fill="none" opacity="0.78" filter="url(#blurS)"/>
<path d="M595.23,11.2 L604.77,126.0" stroke="#2222e2" stroke-width="2.4" fill="none" opacity="0.78" filter="url(#blurS)"/>
<path d="M614.67,11.2 L622.13,126.0" stroke="#2424e2" stroke-width="2.4" fill="none" opacity="0.78" filter="url(#blurS)"/>
<line x1="578" y1="13.2" x2="587.6" y2="124.0" stroke="#1a1a60" stroke-width="0.7" stroke-dasharray="1.1,1.3" opacity="0.8"/>
<line x1="595.4" y1="13.2" x2="604.6" y2="124.0" stroke="#1a1a60" stroke-width="0.7" stroke-dasharray="1.1,1.3" opacity="0.8"/>
<line x1="614.8" y1="13.2" x2="622" y2="124.0" stroke="#1a1a60" stroke-width="0.7" stroke-dasharray="1.1,1.3" opacity="0.8"/>
<line x1="629.4" y1="13.2" x2="577.3" y2="124.0" stroke="#111" stroke-width="0.8"/>
<circle cx="617" cy="41" r="6.6" fill="none" stroke="#111" stroke-width="0.85"/>
<circle cx="585.7" cy="105.5" r="6.7" fill="none" stroke="#111" stroke-width="0.85"/>
</g>
<rect x="28.5" y="13.5" width="116" height="111" fill="none" stroke="#3a3a3a" stroke-width="1"/>
<line x1="28.5" y1="124.0" x2="28.5" y2="122.0" stroke="#333" stroke-width="0.7"/>
<line x1="28.5" y1="13.2" x2="28.5" y2="15.2" stroke="#333" stroke-width="0.7"/>
<text x="28.5" y="133.6" font-size="8.47" text-anchor="middle" font-weight="normal" fill="#231f20" stroke="#231f20" stroke-width="0.18" font-style="normal" textLength="6.67" lengthAdjust="spacingAndGlyphs" >-2</text>
<line x1="57.25" y1="124.0" x2="57.25" y2="122.0" stroke="#333" stroke-width="0.7"/>
<line x1="57.25" y1="13.2" x2="57.25" y2="15.2" stroke="#333" stroke-width="0.7"/>
<text x="57.25" y="133.6" font-size="8.47" text-anchor="middle" font-weight="normal" fill="#231f20" stroke="#231f20" stroke-width="0.18" font-style="normal" textLength="6.67" lengthAdjust="spacingAndGlyphs" >-1</text>
<line x1="86" y1="124.0" x2="86" y2="122.0" stroke="#333" stroke-width="0.7"/>
<line x1="86" y1="13.2" x2="86" y2="15.2" stroke="#333" stroke-width="0.7"/>
<text x="86" y="133.6" font-size="8.47" text-anchor="middle" font-weight="normal" fill="#231f20" stroke="#231f20" stroke-width="0.18" font-style="normal" textLength="4.17" lengthAdjust="spacingAndGlyphs" >0</text>
<line x1="114.75" y1="124.0" x2="114.75" y2="122.0" stroke="#333" stroke-width="0.7"/>
<line x1="114.75" y1="13.2" x2="114.75" y2="15.2" stroke="#333" stroke-width="0.7"/>
<text x="114.75" y="133.6" font-size="8.47" text-anchor="middle" font-weight="normal" fill="#231f20" stroke="#231f20" stroke-width="0.18" font-style="normal" textLength="4.17" lengthAdjust="spacingAndGlyphs" >1</text>
<line x1="143.5" y1="124.0" x2="143.5" y2="122.0" stroke="#333" stroke-width="0.7"/>
<line x1="143.5" y1="13.2" x2="143.5" y2="15.2" stroke="#333" stroke-width="0.7"/>
<text x="143.5" y="133.6" font-size="8.47" text-anchor="middle" font-weight="normal" fill="#231f20" stroke="#231f20" stroke-width="0.18" font-style="normal" textLength="4.17" lengthAdjust="spacingAndGlyphs" >2</text>
<line x1="42.88" y1="124.0" x2="42.88" y2="122.8" stroke="#333" stroke-width="0.6"/>
<line x1="71.62" y1="124.0" x2="71.62" y2="122.8" stroke="#333" stroke-width="0.6"/>
<line x1="100.38" y1="124.0" x2="100.38" y2="122.8" stroke="#333" stroke-width="0.6"/>
<line x1="129.12" y1="124.0" x2="129.12" y2="122.8" stroke="#333" stroke-width="0.6"/>
<line x1="28.5" y1="24.32" x2="26.3" y2="24.32" stroke="#333" stroke-width="0.7"/>
<text x="25.3" y="27.32" font-size="8.47" text-anchor="end" font-weight="normal" fill="#231f20" stroke="#231f20" stroke-width="0.18" font-style="normal" textLength="8.34" lengthAdjust="spacingAndGlyphs" >40</text>
<line x1="28.5" y1="46.46" x2="26.3" y2="46.46" stroke="#333" stroke-width="0.7"/>
<text x="25.3" y="49.46" font-size="8.47" text-anchor="end" font-weight="normal" fill="#231f20" stroke="#231f20" stroke-width="0.18" font-style="normal" textLength="8.34" lengthAdjust="spacingAndGlyphs" >20</text>
<line x1="28.5" y1="68.6" x2="26.3" y2="68.6" stroke="#333" stroke-width="0.7"/>
<text x="25.3" y="71.6" font-size="8.47" text-anchor="end" font-weight="normal" fill="#231f20" stroke="#231f20" stroke-width="0.18" font-style="normal" textLength="4.17" lengthAdjust="spacingAndGlyphs" >0</text>
<line x1="28.5" y1="90.74" x2="26.3" y2="90.74" stroke="#333" stroke-width="0.7"/>
<text x="25.3" y="93.74" font-size="8.47" text-anchor="end" font-weight="normal" fill="#231f20" stroke="#231f20" stroke-width="0.18" font-style="normal" textLength="10.84" lengthAdjust="spacingAndGlyphs" >-20</text>
<line x1="28.5" y1="112.88" x2="26.3" y2="112.88" stroke="#333" stroke-width="0.7"/>
<text x="25.3" y="115.88" font-size="8.47" text-anchor="end" font-weight="normal" fill="#231f20" stroke="#231f20" stroke-width="0.18" font-style="normal" textLength="10.84" lengthAdjust="spacingAndGlyphs" >-40</text>
<line x1="28.5" y1="35.39" x2="27.3" y2="35.39" stroke="#333" stroke-width="0.6"/>
<line x1="28.5" y1="57.53" x2="27.3" y2="57.53" stroke="#333" stroke-width="0.6"/>
<line x1="28.5" y1="79.67" x2="27.3" y2="79.67" stroke="#333" stroke-width="0.6"/>
<line x1="28.5" y1="101.81" x2="27.3" y2="101.81" stroke="#333" stroke-width="0.6"/>
<text x="71.9" y="146.6" font-size="9.3" fill="#231f20"><tspan font-style="italic">V</tspan><tspan font-size="6.3" dy="2.2">int</tspan><tspan dy="-2.2"> (V)</tspan></text>
<text transform="translate(10.2,68.2) rotate(-90)" text-anchor="middle" font-size="9.8" fill="#231f20"><tspan font-style="italic">V</tspan><tspan font-size="6.6" dy="2.2">BG</tspan><tspan dy="-2.2"> (V)</tspan></text>
<text x="32.5" y="10.7" font-size="7.21" text-anchor="middle" font-weight="normal" fill="#ff22ff" stroke="#ff22ff" stroke-width="0.18" font-style="normal" textLength="14.74" lengthAdjust="spacingAndGlyphs" >QNP</text>
<text x="63.4" y="10.7" font-size="7.21" text-anchor="middle" font-weight="normal" fill="#ff8c1e" stroke="#ff8c1e" stroke-width="0.18" font-style="normal" textLength="13.98" lengthAdjust="spacingAndGlyphs" >SNP</text>
<text x="80.7" y="10.7" font-size="7.21" text-anchor="middle" font-weight="normal" fill="#231f20" stroke="#231f20" stroke-width="0.18" font-style="normal" textLength="14.36" lengthAdjust="spacingAndGlyphs" >CNP</text>
<text x="99.5" y="10.7" font-size="7.21" text-anchor="middle" font-weight="normal" fill="#ff8c1e" stroke="#ff8c1e" stroke-width="0.18" font-style="normal" textLength="13.98" lengthAdjust="spacingAndGlyphs" >SNP</text>
<text x="130.2" y="10.7" font-size="7.21" text-anchor="middle" font-weight="normal" fill="#ff22ff" stroke="#ff22ff" stroke-width="0.18" font-style="normal" textLength="14.74" lengthAdjust="spacingAndGlyphs" >QNP</text>
<g fill="#231f20"><text x="141" y="7.2" font-size="7.9" font-style="italic" stroke="#231f20" stroke-width="0.12">R</text><text x="146.2" y="9.2" font-size="5.6" stroke="#231f20" stroke-width="0.1">0</text><text x="147.5" y="3.6" font-size="5" stroke="#231f20" stroke-width="0.1">MG</text><text x="157.4" y="6.9" font-size="8" stroke="#231f20" stroke-width="0.12">(Ω)</text></g>
<text x="36.2" y="32.1" font-size="9.78" text-anchor="start" font-weight="bold" fill="#231f20" stroke="#231f20" stroke-width="0" font-style="normal" textLength="25.08" lengthAdjust="spacingAndGlyphs" >200 K</text>
<rect x="152.5" y="13.399999999999999" width="4.2" height="110.6" fill="url(#cbgrad)" stroke="#333" stroke-width="0.5"/>
<line x1="156.7" y1="14.2" x2="158.7" y2="14.2" stroke="#333" stroke-width="0.6"/>
<text x="159.7" y="16.5" font-size="6.6" text-anchor="start" font-weight="normal" fill="#231f20" stroke="#231f20" stroke-width="0.18" font-style="normal" >10</text>
<line x1="156.7" y1="68.6" x2="158.7" y2="68.6" stroke="#333" stroke-width="0.6"/>
<text x="159.7" y="70.9" font-size="6.6" text-anchor="start" font-weight="normal" fill="#231f20" stroke="#231f20" stroke-width="0.18" font-style="normal" >0</text>
<line x1="156.7" y1="122.9" x2="158.7" y2="122.9" stroke="#333" stroke-width="0.6"/>
<text x="159.7" y="125.2" font-size="6.6" text-anchor="start" font-weight="normal" fill="#231f20" stroke="#231f20" stroke-width="0.18" font-style="normal" >-10</text>
<rect x="199.5" y="13.5" width="116" height="111" fill="none" stroke="#3a3a3a" stroke-width="1"/>
<line x1="199.7" y1="124.0" x2="199.7" y2="122.0" stroke="#333" stroke-width="0.7"/>
<line x1="199.7" y1="13.2" x2="199.7" y2="15.2" stroke="#333" stroke-width="0.7"/>
<text x="199.7" y="133.6" font-size="8.47" text-anchor="middle" font-weight="normal" fill="#231f20" stroke="#231f20" stroke-width="0.18" font-style="normal" textLength="6.67" lengthAdjust="spacingAndGlyphs" >-2</text>
<line x1="228.45" y1="124.0" x2="228.45" y2="122.0" stroke="#333" stroke-width="0.7"/>
<line x1="228.45" y1="13.2" x2="228.45" y2="15.2" stroke="#333" stroke-width="0.7"/>
<text x="228.45" y="133.6" font-size="8.47" text-anchor="middle" font-weight="normal" fill="#231f20" stroke="#231f20" stroke-width="0.18" font-style="normal" textLength="6.67" lengthAdjust="spacingAndGlyphs" >-1</text>
<line x1="257.2" y1="124.0" x2="257.2" y2="122.0" stroke="#333" stroke-width="0.7"/>
<line x1="257.2" y1="13.2" x2="257.2" y2="15.2" stroke="#333" stroke-width="0.7"/>
<text x="257.2" y="133.6" font-size="8.47" text-anchor="middle" font-weight="normal" fill="#231f20" stroke="#231f20" stroke-width="0.18" font-style="normal" textLength="4.17" lengthAdjust="spacingAndGlyphs" >0</text>
<line x1="285.95" y1="124.0" x2="285.95" y2="122.0" stroke="#333" stroke-width="0.7"/>
<line x1="285.95" y1="13.2" x2="285.95" y2="15.2" stroke="#333" stroke-width="0.7"/>
<text x="285.95" y="133.6" font-size="8.47" text-anchor="middle" font-weight="normal" fill="#231f20" stroke="#231f20" stroke-width="0.18" font-style="normal" textLength="4.17" lengthAdjust="spacingAndGlyphs" >1</text>
<line x1="314.7" y1="124.0" x2="314.7" y2="122.0" stroke="#333" stroke-width="0.7"/>
<line x1="314.7" y1="13.2" x2="314.7" y2="15.2" stroke="#333" stroke-width="0.7"/>
<text x="314.7" y="133.6" font-size="8.47" text-anchor="middle" font-weight="normal" fill="#231f20" stroke="#231f20" stroke-width="0.18" font-style="normal" textLength="4.17" lengthAdjust="spacingAndGlyphs" >2</text>
<line x1="214.07" y1="124.0" x2="214.07" y2="122.8" stroke="#333" stroke-width="0.6"/>
<line x1="242.82" y1="124.0" x2="242.82" y2="122.8" stroke="#333" stroke-width="0.6"/>
<line x1="271.57" y1="124.0" x2="271.57" y2="122.8" stroke="#333" stroke-width="0.6"/>
<line x1="300.32" y1="124.0" x2="300.32" y2="122.8" stroke="#333" stroke-width="0.6"/>
<line x1="199.7" y1="24.32" x2="197.5" y2="24.32" stroke="#333" stroke-width="0.7"/>
<text x="196.5" y="27.32" font-size="8.47" text-anchor="end" font-weight="normal" fill="#231f20" stroke="#231f20" stroke-width="0.18" font-style="normal" textLength="8.34" lengthAdjust="spacingAndGlyphs" >40</text>
<line x1="199.7" y1="46.46" x2="197.5" y2="46.46" stroke="#333" stroke-width="0.7"/>
<text x="196.5" y="49.46" font-size="8.47" text-anchor="end" font-weight="normal" fill="#231f20" stroke="#231f20" stroke-width="0.18" font-style="normal" textLength="8.34" lengthAdjust="spacingAndGlyphs" >20</text>
<line x1="199.7" y1="68.6" x2="197.5" y2="68.6" stroke="#333" stroke-width="0.7"/>
<text x="196.5" y="71.6" font-size="8.47" text-anchor="end" font-weight="normal" fill="#231f20" stroke="#231f20" stroke-width="0.18" font-style="normal" textLength="4.17" lengthAdjust="spacingAndGlyphs" >0</text>
<line x1="199.7" y1="90.74" x2="197.5" y2="90.74" stroke="#333" stroke-width="0.7"/>
<text x="196.5" y="93.74" font-size="8.47" text-anchor="end" font-weight="normal" fill="#231f20" stroke="#231f20" stroke-width="0.18" font-style="normal" textLength="10.84" lengthAdjust="spacingAndGlyphs" >-20</text>
<line x1="199.7" y1="112.88" x2="197.5" y2="112.88" stroke="#333" stroke-width="0.7"/>
<text x="196.5" y="115.88" font-size="8.47" text-anchor="end" font-weight="normal" fill="#231f20" stroke="#231f20" stroke-width="0.18" font-style="normal" textLength="10.84" lengthAdjust="spacingAndGlyphs" >-40</text>
<line x1="199.7" y1="35.39" x2="198.5" y2="35.39" stroke="#333" stroke-width="0.6"/>
<line x1="199.7" y1="57.53" x2="198.5" y2="57.53" stroke="#333" stroke-width="0.6"/>
<line x1="199.7" y1="79.67" x2="198.5" y2="79.67" stroke="#333" stroke-width="0.6"/>
<line x1="199.7" y1="101.81" x2="198.5" y2="101.81" stroke="#333" stroke-width="0.6"/>
<text x="243.1" y="146.6" font-size="9.3" fill="#231f20"><tspan font-style="italic">V</tspan><tspan font-size="6.3" dy="2.2">int</tspan><tspan dy="-2.2"> (V)</tspan></text>
<text transform="translate(181.4,68.2) rotate(-90)" text-anchor="middle" font-size="9.8" fill="#231f20"><tspan font-style="italic">V</tspan><tspan font-size="6.6" dy="2.2">BG</tspan><tspan dy="-2.2"> (V)</tspan></text>
<text x="203.7" y="10.7" font-size="7.21" text-anchor="middle" font-weight="normal" fill="#ff22ff" stroke="#ff22ff" stroke-width="0.18" font-style="normal" textLength="14.74" lengthAdjust="spacingAndGlyphs" >QNP</text>
<text x="234.6" y="10.7" font-size="7.21" text-anchor="middle" font-weight="normal" fill="#ff8c1e" stroke="#ff8c1e" stroke-width="0.18" font-style="normal" textLength="13.98" lengthAdjust="spacingAndGlyphs" >SNP</text>
<text x="251.9" y="10.7" font-size="7.21" text-anchor="middle" font-weight="normal" fill="#231f20" stroke="#231f20" stroke-width="0.18" font-style="normal" textLength="14.36" lengthAdjust="spacingAndGlyphs" >CNP</text>
<text x="270.7" y="10.7" font-size="7.21" text-anchor="middle" font-weight="normal" fill="#ff8c1e" stroke="#ff8c1e" stroke-width="0.18" font-style="normal" textLength="13.98" lengthAdjust="spacingAndGlyphs" >SNP</text>
<text x="301.4" y="10.7" font-size="7.21" text-anchor="middle" font-weight="normal" fill="#ff22ff" stroke="#ff22ff" stroke-width="0.18" font-style="normal" textLength="14.74" lengthAdjust="spacingAndGlyphs" >QNP</text>
<g fill="#231f20"><text x="312.2" y="7.2" font-size="7.9" font-style="italic" stroke="#231f20" stroke-width="0.12">R</text><text x="317.4" y="9.2" font-size="5.6" stroke="#231f20" stroke-width="0.1">0</text><text x="318.7" y="3.6" font-size="5" stroke="#231f20" stroke-width="0.1">MG</text><text x="328.6" y="6.9" font-size="8" stroke="#231f20" stroke-width="0.12">(Ω)</text></g>
<text x="207.4" y="32.1" font-size="9.78" text-anchor="start" font-weight="bold" fill="#231f20" stroke="#231f20" stroke-width="0" font-style="normal" textLength="25.08" lengthAdjust="spacingAndGlyphs" >150 K</text>
<rect x="323.7" y="13.399999999999999" width="4.2" height="110.6" fill="url(#cbgrad)" stroke="#333" stroke-width="0.5"/>
<line x1="327.9" y1="14.2" x2="329.9" y2="14.2" stroke="#333" stroke-width="0.6"/>
<text x="330.9" y="16.5" font-size="6.6" text-anchor="start" font-weight="normal" fill="#231f20" stroke="#231f20" stroke-width="0.18" font-style="normal" >10</text>
<line x1="327.9" y1="68.6" x2="329.9" y2="68.6" stroke="#333" stroke-width="0.6"/>
<text x="330.9" y="70.9" font-size="6.6" text-anchor="start" font-weight="normal" fill="#231f20" stroke="#231f20" stroke-width="0.18" font-style="normal" >0</text>
<line x1="327.9" y1="122.9" x2="329.9" y2="122.9" stroke="#333" stroke-width="0.6"/>
<text x="330.9" y="125.2" font-size="6.6" text-anchor="start" font-weight="normal" fill="#231f20" stroke="#231f20" stroke-width="0.18" font-style="normal" >-10</text>
<rect x="371.5" y="13.5" width="116" height="111" fill="none" stroke="#3a3a3a" stroke-width="1"/>
<line x1="371.5" y1="124.0" x2="371.5" y2="122.0" stroke="#333" stroke-width="0.7"/>
<line x1="371.5" y1="13.2" x2="371.5" y2="15.2" stroke="#333" stroke-width="0.7"/>
<text x="371.5" y="133.6" font-size="8.47" text-anchor="middle" font-weight="normal" fill="#231f20" stroke="#231f20" stroke-width="0.18" font-style="normal" textLength="6.67" lengthAdjust="spacingAndGlyphs" >-2</text>
<line x1="400.25" y1="124.0" x2="400.25" y2="122.0" stroke="#333" stroke-width="0.7"/>
<line x1="400.25" y1="13.2" x2="400.25" y2="15.2" stroke="#333" stroke-width="0.7"/>
<text x="400.25" y="133.6" font-size="8.47" text-anchor="middle" font-weight="normal" fill="#231f20" stroke="#231f20" stroke-width="0.18" font-style="normal" textLength="6.67" lengthAdjust="spacingAndGlyphs" >-1</text>
<line x1="429" y1="124.0" x2="429" y2="122.0" stroke="#333" stroke-width="0.7"/>
<line x1="429" y1="13.2" x2="429" y2="15.2" stroke="#333" stroke-width="0.7"/>
<text x="429" y="133.6" font-size="8.47" text-anchor="middle" font-weight="normal" fill="#231f20" stroke="#231f20" stroke-width="0.18" font-style="normal" textLength="4.17" lengthAdjust="spacingAndGlyphs" >0</text>
<line x1="457.75" y1="124.0" x2="457.75" y2="122.0" stroke="#333" stroke-width="0.7"/>
<line x1="457.75" y1="13.2" x2="457.75" y2="15.2" stroke="#333" stroke-width="0.7"/>
<text x="457.75" y="133.6" font-size="8.47" text-anchor="middle" font-weight="normal" fill="#231f20" stroke="#231f20" stroke-width="0.18" font-style="normal" textLength="4.17" lengthAdjust="spacingAndGlyphs" >1</text>
<line x1="486.5" y1="124.0" x2="486.5" y2="122.0" stroke="#333" stroke-width="0.7"/>
<line x1="486.5" y1="13.2" x2="486.5" y2="15.2" stroke="#333" stroke-width="0.7"/>
<text x="486.5" y="133.6" font-size="8.47" text-anchor="middle" font-weight="normal" fill="#231f20" stroke="#231f20" stroke-width="0.18" font-style="normal" textLength="4.17" lengthAdjust="spacingAndGlyphs" >2</text>
<line x1="385.88" y1="124.0" x2="385.88" y2="122.8" stroke="#333" stroke-width="0.6"/>
<line x1="414.62" y1="124.0" x2="414.62" y2="122.8" stroke="#333" stroke-width="0.6"/>
<line x1="443.38" y1="124.0" x2="443.38" y2="122.8" stroke="#333" stroke-width="0.6"/>
<line x1="472.12" y1="124.0" x2="472.12" y2="122.8" stroke="#333" stroke-width="0.6"/>
<line x1="371.5" y1="24.32" x2="369.3" y2="24.32" stroke="#333" stroke-width="0.7"/>
<text x="368.3" y="27.32" font-size="8.47" text-anchor="end" font-weight="normal" fill="#231f20" stroke="#231f20" stroke-width="0.18" font-style="normal" textLength="8.34" lengthAdjust="spacingAndGlyphs" >40</text>
<line x1="371.5" y1="46.46" x2="369.3" y2="46.46" stroke="#333" stroke-width="0.7"/>
<text x="368.3" y="49.46" font-size="8.47" text-anchor="end" font-weight="normal" fill="#231f20" stroke="#231f20" stroke-width="0.18" font-style="normal" textLength="8.34" lengthAdjust="spacingAndGlyphs" >20</text>
<line x1="371.5" y1="68.6" x2="369.3" y2="68.6" stroke="#333" stroke-width="0.7"/>
<text x="368.3" y="71.6" font-size="8.47" text-anchor="end" font-weight="normal" fill="#231f20" stroke="#231f20" stroke-width="0.18" font-style="normal" textLength="4.17" lengthAdjust="spacingAndGlyphs" >0</text>
<line x1="371.5" y1="90.74" x2="369.3" y2="90.74" stroke="#333" stroke-width="0.7"/>
<text x="368.3" y="93.74" font-size="8.47" text-anchor="end" font-weight="normal" fill="#231f20" stroke="#231f20" stroke-width="0.18" font-style="normal" textLength="10.84" lengthAdjust="spacingAndGlyphs" >-20</text>
<line x1="371.5" y1="112.88" x2="369.3" y2="112.88" stroke="#333" stroke-width="0.7"/>
<text x="368.3" y="115.88" font-size="8.47" text-anchor="end" font-weight="normal" fill="#231f20" stroke="#231f20" stroke-width="0.18" font-style="normal" textLength="10.84" lengthAdjust="spacingAndGlyphs" >-40</text>
<line x1="371.5" y1="35.39" x2="370.3" y2="35.39" stroke="#333" stroke-width="0.6"/>
<line x1="371.5" y1="57.53" x2="370.3" y2="57.53" stroke="#333" stroke-width="0.6"/>
<line x1="371.5" y1="79.67" x2="370.3" y2="79.67" stroke="#333" stroke-width="0.6"/>
<line x1="371.5" y1="101.81" x2="370.3" y2="101.81" stroke="#333" stroke-width="0.6"/>
<text x="414.9" y="146.6" font-size="9.3" fill="#231f20"><tspan font-style="italic">V</tspan><tspan font-size="6.3" dy="2.2">int</tspan><tspan dy="-2.2"> (V)</tspan></text>
<text transform="translate(353.2,68.2) rotate(-90)" text-anchor="middle" font-size="9.8" fill="#231f20"><tspan font-style="italic">V</tspan><tspan font-size="6.6" dy="2.2">BG</tspan><tspan dy="-2.2"> (V)</tspan></text>
<text x="375.5" y="10.7" font-size="7.21" text-anchor="middle" font-weight="normal" fill="#ff22ff" stroke="#ff22ff" stroke-width="0.18" font-style="normal" textLength="14.74" lengthAdjust="spacingAndGlyphs" >QNP</text>
<text x="406.4" y="10.7" font-size="7.21" text-anchor="middle" font-weight="normal" fill="#ff8c1e" stroke="#ff8c1e" stroke-width="0.18" font-style="normal" textLength="13.98" lengthAdjust="spacingAndGlyphs" >SNP</text>
<text x="423.7" y="10.7" font-size="7.21" text-anchor="middle" font-weight="normal" fill="#231f20" stroke="#231f20" stroke-width="0.18" font-style="normal" textLength="14.36" lengthAdjust="spacingAndGlyphs" >CNP</text>
<text x="442.5" y="10.7" font-size="7.21" text-anchor="middle" font-weight="normal" fill="#ff8c1e" stroke="#ff8c1e" stroke-width="0.18" font-style="normal" textLength="13.98" lengthAdjust="spacingAndGlyphs" >SNP</text>
<text x="473.2" y="10.7" font-size="7.21" text-anchor="middle" font-weight="normal" fill="#ff22ff" stroke="#ff22ff" stroke-width="0.18" font-style="normal" textLength="14.74" lengthAdjust="spacingAndGlyphs" >QNP</text>
<g fill="#231f20"><text x="484" y="7.2" font-size="7.9" font-style="italic" stroke="#231f20" stroke-width="0.12">R</text><text x="489.2" y="9.2" font-size="5.6" stroke="#231f20" stroke-width="0.1">0</text><text x="490.5" y="3.6" font-size="5" stroke="#231f20" stroke-width="0.1">MG</text><text x="500.4" y="6.9" font-size="8" stroke="#231f20" stroke-width="0.12">(Ω)</text></g>
<text x="379.2" y="32.1" font-size="9.78" text-anchor="start" font-weight="bold" fill="#231f20" stroke="#231f20" stroke-width="0" font-style="normal" textLength="19.86" lengthAdjust="spacingAndGlyphs" >50 K</text>
<rect x="495.5" y="13.399999999999999" width="4.2" height="110.6" fill="url(#cbgrad)" stroke="#333" stroke-width="0.5"/>
<line x1="499.7" y1="14.2" x2="501.7" y2="14.2" stroke="#333" stroke-width="0.6"/>
<text x="502.7" y="16.5" font-size="6.6" text-anchor="start" font-weight="normal" fill="#231f20" stroke="#231f20" stroke-width="0.18" font-style="normal" >10</text>
<line x1="499.7" y1="68.6" x2="501.7" y2="68.6" stroke="#333" stroke-width="0.6"/>
<text x="502.7" y="70.9" font-size="6.6" text-anchor="start" font-weight="normal" fill="#231f20" stroke="#231f20" stroke-width="0.18" font-style="normal" >0</text>
<line x1="499.7" y1="122.9" x2="501.7" y2="122.9" stroke="#333" stroke-width="0.6"/>
<text x="502.7" y="125.2" font-size="6.6" text-anchor="start" font-weight="normal" fill="#231f20" stroke="#231f20" stroke-width="0.18" font-style="normal" >-10</text>
<rect x="544.5" y="13.5" width="116" height="111" fill="none" stroke="#3a3a3a" stroke-width="1"/>
<line x1="544.5" y1="124.0" x2="544.5" y2="122.0" stroke="#333" stroke-width="0.7"/>
<line x1="544.5" y1="13.2" x2="544.5" y2="15.2" stroke="#333" stroke-width="0.7"/>
<text x="544.5" y="133.6" font-size="8.47" text-anchor="middle" font-weight="normal" fill="#231f20" stroke="#231f20" stroke-width="0.18" font-style="normal" textLength="6.67" lengthAdjust="spacingAndGlyphs" >-2</text>
<line x1="573.25" y1="124.0" x2="573.25" y2="122.0" stroke="#333" stroke-width="0.7"/>
<line x1="573.25" y1="13.2" x2="573.25" y2="15.2" stroke="#333" stroke-width="0.7"/>
<text x="573.25" y="133.6" font-size="8.47" text-anchor="middle" font-weight="normal" fill="#231f20" stroke="#231f20" stroke-width="0.18" font-style="normal" textLength="6.67" lengthAdjust="spacingAndGlyphs" >-1</text>
<line x1="602" y1="124.0" x2="602" y2="122.0" stroke="#333" stroke-width="0.7"/>
<line x1="602" y1="13.2" x2="602" y2="15.2" stroke="#333" stroke-width="0.7"/>
<text x="602" y="133.6" font-size="8.47" text-anchor="middle" font-weight="normal" fill="#231f20" stroke="#231f20" stroke-width="0.18" font-style="normal" textLength="4.17" lengthAdjust="spacingAndGlyphs" >0</text>
<line x1="630.75" y1="124.0" x2="630.75" y2="122.0" stroke="#333" stroke-width="0.7"/>
<line x1="630.75" y1="13.2" x2="630.75" y2="15.2" stroke="#333" stroke-width="0.7"/>
<text x="630.75" y="133.6" font-size="8.47" text-anchor="middle" font-weight="normal" fill="#231f20" stroke="#231f20" stroke-width="0.18" font-style="normal" textLength="4.17" lengthAdjust="spacingAndGlyphs" >1</text>
<line x1="659.5" y1="124.0" x2="659.5" y2="122.0" stroke="#333" stroke-width="0.7"/>
<line x1="659.5" y1="13.2" x2="659.5" y2="15.2" stroke="#333" stroke-width="0.7"/>
<text x="659.5" y="133.6" font-size="8.47" text-anchor="middle" font-weight="normal" fill="#231f20" stroke="#231f20" stroke-width="0.18" font-style="normal" textLength="4.17" lengthAdjust="spacingAndGlyphs" >2</text>
<line x1="558.88" y1="124.0" x2="558.88" y2="122.8" stroke="#333" stroke-width="0.6"/>
<line x1="587.62" y1="124.0" x2="587.62" y2="122.8" stroke="#333" stroke-width="0.6"/>
<line x1="616.38" y1="124.0" x2="616.38" y2="122.8" stroke="#333" stroke-width="0.6"/>
<line x1="645.12" y1="124.0" x2="645.12" y2="122.8" stroke="#333" stroke-width="0.6"/>
<line x1="544.5" y1="24.32" x2="542.3" y2="24.32" stroke="#333" stroke-width="0.7"/>
<text x="541.3" y="27.32" font-size="8.47" text-anchor="end" font-weight="normal" fill="#231f20" stroke="#231f20" stroke-width="0.18" font-style="normal" textLength="8.34" lengthAdjust="spacingAndGlyphs" >40</text>
<line x1="544.5" y1="46.46" x2="542.3" y2="46.46" stroke="#333" stroke-width="0.7"/>
<text x="541.3" y="49.46" font-size="8.47" text-anchor="end" font-weight="normal" fill="#231f20" stroke="#231f20" stroke-width="0.18" font-style="normal" textLength="8.34" lengthAdjust="spacingAndGlyphs" >20</text>
<line x1="544.5" y1="68.6" x2="542.3" y2="68.6" stroke="#333" stroke-width="0.7"/>
<text x="541.3" y="71.6" font-size="8.47" text-anchor="end" font-weight="normal" fill="#231f20" stroke="#231f20" stroke-width="0.18" font-style="normal" textLength="4.17" lengthAdjust="spacingAndGlyphs" >0</text>
<line x1="544.5" y1="90.74" x2="542.3" y2="90.74" stroke="#333" stroke-width="0.7"/>
<text x="541.3" y="93.74" font-size="8.47" text-anchor="end" font-weight="normal" fill="#231f20" stroke="#231f20" stroke-width="0.18" font-style="normal" textLength="10.84" lengthAdjust="spacingAndGlyphs" >-20</text>
<line x1="544.5" y1="112.88" x2="542.3" y2="112.88" stroke="#333" stroke-width="0.7"/>
<text x="541.3" y="115.88" font-size="8.47" text-anchor="end" font-weight="normal" fill="#231f20" stroke="#231f20" stroke-width="0.18" font-style="normal" textLength="10.84" lengthAdjust="spacingAndGlyphs" >-40</text>
<line x1="544.5" y1="35.39" x2="543.3" y2="35.39" stroke="#333" stroke-width="0.6"/>
<line x1="544.5" y1="57.53" x2="543.3" y2="57.53" stroke="#333" stroke-width="0.6"/>
<line x1="544.5" y1="79.67" x2="543.3" y2="79.67" stroke="#333" stroke-width="0.6"/>
<line x1="544.5" y1="101.81" x2="543.3" y2="101.81" stroke="#333" stroke-width="0.6"/>
<text x="587.9" y="146.6" font-size="9.3" fill="#231f20"><tspan font-style="italic">V</tspan><tspan font-size="6.3" dy="2.2">int</tspan><tspan dy="-2.2"> (V)</tspan></text>
<text transform="translate(526.2,68.2) rotate(-90)" text-anchor="middle" font-size="9.8" fill="#231f20"><tspan font-style="italic">V</tspan><tspan font-size="6.6" dy="2.2">BG</tspan><tspan dy="-2.2"> (V)</tspan></text>
<text x="548.5" y="10.7" font-size="7.21" text-anchor="middle" font-weight="normal" fill="#ff22ff" stroke="#ff22ff" stroke-width="0.18" font-style="normal" textLength="14.74" lengthAdjust="spacingAndGlyphs" >QNP</text>
<text x="579.4" y="10.7" font-size="7.21" text-anchor="middle" font-weight="normal" fill="#ff8c1e" stroke="#ff8c1e" stroke-width="0.18" font-style="normal" textLength="13.98" lengthAdjust="spacingAndGlyphs" >SNP</text>
<text x="596.7" y="10.7" font-size="7.21" text-anchor="middle" font-weight="normal" fill="#231f20" stroke="#231f20" stroke-width="0.18" font-style="normal" textLength="14.36" lengthAdjust="spacingAndGlyphs" >CNP</text>
<text x="615.5" y="10.7" font-size="7.21" text-anchor="middle" font-weight="normal" fill="#ff8c1e" stroke="#ff8c1e" stroke-width="0.18" font-style="normal" textLength="13.98" lengthAdjust="spacingAndGlyphs" >SNP</text>
<text x="646.2" y="10.7" font-size="7.21" text-anchor="middle" font-weight="normal" fill="#ff22ff" stroke="#ff22ff" stroke-width="0.18" font-style="normal" textLength="14.74" lengthAdjust="spacingAndGlyphs" >QNP</text>
<g fill="#231f20"><text x="657" y="7.2" font-size="7.9" font-style="italic" stroke="#231f20" stroke-width="0.12">R</text><text x="662.2" y="9.2" font-size="5.6" stroke="#231f20" stroke-width="0.1">0</text><text x="663.5" y="3.6" font-size="5" stroke="#231f20" stroke-width="0.1">MG</text><text x="673.4" y="6.9" font-size="8" stroke="#231f20" stroke-width="0.12">(Ω)</text></g>
<text x="552.2" y="32.1" font-size="9.78" text-anchor="start" font-weight="bold" fill="#231f20" stroke="#231f20" stroke-width="0" font-style="normal" textLength="22.47" lengthAdjust="spacingAndGlyphs" >1.5 K</text>
<rect x="668.5" y="13.399999999999999" width="4.2" height="110.6" fill="url(#cbgrad)" stroke="#333" stroke-width="0.5"/>
<line x1="672.7" y1="14.2" x2="674.7" y2="14.2" stroke="#333" stroke-width="0.6"/>
<text x="675.7" y="16.5" font-size="6.6" text-anchor="start" font-weight="normal" fill="#231f20" stroke="#231f20" stroke-width="0.18" font-style="normal" >10</text>
<line x1="672.7" y1="68.6" x2="674.7" y2="68.6" stroke="#333" stroke-width="0.6"/>
<text x="675.7" y="70.9" font-size="6.6" text-anchor="start" font-weight="normal" fill="#231f20" stroke="#231f20" stroke-width="0.18" font-style="normal" >0</text>
<line x1="672.7" y1="122.9" x2="674.7" y2="122.9" stroke="#333" stroke-width="0.6"/>
<text x="675.7" y="125.2" font-size="6.6" text-anchor="start" font-weight="normal" fill="#231f20" stroke="#231f20" stroke-width="0.18" font-style="normal" >-10</text>
<text x="2.5" y="14.5" font-size="16" text-anchor="start" font-weight="bold" fill="#231f20" stroke="#231f20" stroke-width="0" font-style="normal" >a</text>
<text x="175.3" y="14.7" font-size="16" text-anchor="start" font-weight="bold" fill="#231f20" stroke="#231f20" stroke-width="0" font-style="normal" >b</text>
<text x="344.3" y="14.8" font-size="16" text-anchor="start" font-weight="bold" fill="#231f20" stroke="#231f20" stroke-width="0" font-style="normal" >c</text>
<text x="516" y="14.7" font-size="16" text-anchor="start" font-weight="bold" fill="#231f20" stroke="#231f20" stroke-width="0" font-style="normal" >d</text>
<line x1="28" y1="174" x2="29.2" y2="174" stroke="#333" stroke-width="0.6"/>
<line x1="28" y1="193.33" x2="29.2" y2="193.33" stroke="#333" stroke-width="0.6"/>
<line x1="28" y1="212.67" x2="29.2" y2="212.67" stroke="#333" stroke-width="0.6"/>
<line x1="28" y1="232" x2="29.2" y2="232" stroke="#333" stroke-width="0.6"/>
<line x1="28" y1="251.34" x2="29.2" y2="251.34" stroke="#333" stroke-width="0.6"/>
<line x1="28" y1="270.67" x2="29.2" y2="270.67" stroke="#333" stroke-width="0.6"/>
<rect x="28.5" y="164.5" width="138" height="111" fill="none" stroke="#4a4a4a" stroke-width="1"/>
<line x1="32" y1="275.6" x2="32" y2="273.6" stroke="#333" stroke-width="0.7"/>
<text x="32" y="284.7" font-size="8.47" text-anchor="middle" font-weight="normal" fill="#231f20" stroke="#231f20" stroke-width="0.18" font-style="normal" textLength="6.67" lengthAdjust="spacingAndGlyphs" >-2</text>
<line x1="64.6" y1="275.6" x2="64.6" y2="273.6" stroke="#333" stroke-width="0.7"/>
<text x="64.6" y="284.7" font-size="8.47" text-anchor="middle" font-weight="normal" fill="#231f20" stroke="#231f20" stroke-width="0.18" font-style="normal" textLength="6.67" lengthAdjust="spacingAndGlyphs" >-1</text>
<line x1="97.2" y1="275.6" x2="97.2" y2="273.6" stroke="#333" stroke-width="0.7"/>
<text x="97.2" y="284.7" font-size="8.47" text-anchor="middle" font-weight="normal" fill="#231f20" stroke="#231f20" stroke-width="0.18" font-style="normal" textLength="4.17" lengthAdjust="spacingAndGlyphs" >0</text>
<line x1="129.8" y1="275.6" x2="129.8" y2="273.6" stroke="#333" stroke-width="0.7"/>
<text x="129.8" y="284.7" font-size="8.47" text-anchor="middle" font-weight="normal" fill="#231f20" stroke="#231f20" stroke-width="0.18" font-style="normal" textLength="4.17" lengthAdjust="spacingAndGlyphs" >1</text>
<line x1="162.4" y1="275.6" x2="162.4" y2="273.6" stroke="#333" stroke-width="0.7"/>
<text x="162.4" y="284.7" font-size="8.47" text-anchor="middle" font-weight="normal" fill="#231f20" stroke="#231f20" stroke-width="0.18" font-style="normal" textLength="4.17" lengthAdjust="spacingAndGlyphs" >2</text>
<line x1="48.3" y1="275.6" x2="48.3" y2="274.40000000000003" stroke="#333" stroke-width="0.6"/>
<line x1="80.9" y1="275.6" x2="80.9" y2="274.40000000000003" stroke="#333" stroke-width="0.6"/>
<line x1="113.5" y1="275.6" x2="113.5" y2="274.40000000000003" stroke="#333" stroke-width="0.6"/>
<line x1="146.1" y1="275.6" x2="146.1" y2="274.40000000000003" stroke="#333" stroke-width="0.6"/>
<line x1="28" y1="164.33" x2="30" y2="164.33" stroke="#333" stroke-width="0.7"/>
<text x="25.4" y="167.43" font-size="8.47" text-anchor="end" font-weight="normal" fill="#231f20" stroke="#231f20" stroke-width="0.18" font-style="normal" textLength="8.34" lengthAdjust="spacingAndGlyphs" >40</text>
<line x1="28" y1="183.67" x2="30" y2="183.67" stroke="#333" stroke-width="0.7"/>
<text x="25.4" y="186.77" font-size="8.47" text-anchor="end" font-weight="normal" fill="#231f20" stroke="#231f20" stroke-width="0.18" font-style="normal" textLength="8.34" lengthAdjust="spacingAndGlyphs" >20</text>
<line x1="28" y1="203" x2="30" y2="203" stroke="#333" stroke-width="0.7"/>
<text x="25.4" y="206.1" font-size="8.47" text-anchor="end" font-weight="normal" fill="#231f20" stroke="#231f20" stroke-width="0.18" font-style="normal" textLength="4.17" lengthAdjust="spacingAndGlyphs" >0</text>
<line x1="28" y1="222.33" x2="30" y2="222.33" stroke="#333" stroke-width="0.7"/>
<text x="25.4" y="225.43" font-size="8.47" text-anchor="end" font-weight="normal" fill="#231f20" stroke="#231f20" stroke-width="0.18" font-style="normal" textLength="10.84" lengthAdjust="spacingAndGlyphs" >-20</text>
<line x1="28" y1="241.67" x2="30" y2="241.67" stroke="#333" stroke-width="0.7"/>
<text x="25.4" y="244.77" font-size="8.47" text-anchor="end" font-weight="normal" fill="#231f20" stroke="#231f20" stroke-width="0.18" font-style="normal" textLength="10.84" lengthAdjust="spacingAndGlyphs" >-40</text>
<line x1="28" y1="261" x2="30" y2="261" stroke="#333" stroke-width="0.7"/>
<text x="25.4" y="264.1" font-size="8.47" text-anchor="end" font-weight="normal" fill="#231f20" stroke="#231f20" stroke-width="0.18" font-style="normal" textLength="10.84" lengthAdjust="spacingAndGlyphs" >-60</text>
<text x="83.1" y="295.8" font-size="9.3" fill="#231f20"><tspan font-style="italic">V</tspan><tspan font-size="6.3" dy="2.2">int</tspan><tspan dy="-2.2"> (V)</tspan></text>
<g transform="translate(9.2,211.2) rotate(-90)" fill="#231f20"><text x="-16.6" y="0.3" font-size="10" font-style="italic" stroke="#231f20" stroke-width="0.15">R</text><text x="-10.2" y="2.5" font-size="6.2" stroke="#231f20" stroke-width="0.12">0</text><text x="-7.9" y="-4.6" font-size="5.6" stroke="#231f20" stroke-width="0.12">MG</text><text x="3.4" y="0" font-size="9.2" stroke="#231f20" stroke-width="0.15">(Ω)</text></g>
<text x="48.6" y="177.4" font-size="9.78" text-anchor="start" font-weight="bold" fill="#231f20" stroke="#231f20" stroke-width="0" font-style="normal" textLength="25.08" lengthAdjust="spacingAndGlyphs" >200 K</text>
<path d="M32,202.76 L32.7,203.15 L33.4,203.31 L34.1,202.42 L34.8,203.03 L35.5,203.11 L36.2,202.96 L36.9,203.04 L37.6,202.22 L38.3,202.39 L39,202.4 L39.7,202.73 L40.4,202.78 L41.1,202.52 L41.8,201.94 L42.5,202.94 L43.2,202.72 L43.9,202.66 L44.6,202.49 L45.3,202.81 L46,202.94 L46.7,202.63 L47.4,202.16 L48.1,202.29 L48.8,201.9 L49.5,201.76 L50.2,202.41 L50.9,202.29 L51.6,202.41 L52.3,202.94 L53,203.52 L53.7,202.81 L54.4,202.58 L55.1,201.83 L55.8,202.12 L56.5,201.91 L57.2,202.73 L57.9,202.34 L58.6,202.67 L59.3,202.3 L60,202.84 L60.71,202.36 L61.43,201.72 L62.14,202.31 L62.86,202.23 L63.57,202.07 L64.29,201.85 L65,201.45 L65.71,202.25 L66.43,201.46 L67.14,202.36 L67.86,202.06 L68.57,202.43 L69.29,202.12 L70,201.84 L70.71,201.19 L71.43,201.56 L72.14,202.25 L72.86,202.25 L73.57,201.56 L74.29,201.4 L75,201.09 L75.7,201.83 L76.4,201.97 L77.1,201.77 L77.8,201.25 L78.5,200.82 L79.2,200.9 L79.9,201.06 L80.6,200.62 L81.3,199.87 L82,200.35 L82.71,199.78 L83.42,199.7 L84.14,199.51 L84.85,198.9 L85.56,198.17 L86.28,198.27 L86.99,197.78 L87.7,197.45 L88.47,197.43 L89.23,197.9 L90,198.65 L91,201.43 L92,203.74 L92.77,205.78 L93.53,207.22 L94.3,209.19 L95.15,207.37 L96,204.59 L96.75,199.73 L97.5,195.52 L98.3,193.57 L99.1,191.25 L99.82,192.16 L100.55,192.62 L101.28,193.31 L102,193.82 L102.8,193.64 L103.6,194.62 L104.4,195.14 L105.2,195.85 L106,196.74 L106.8,196.74 L107.6,197.2 L108.4,197.45 L109.2,198.29 L110,199.18 L110.75,199.35 L111.5,198.91 L112.25,199.12 L113,199.36 L113.75,199.33 L114.5,199.95 L115.25,200.49 L116,201.2 L116.75,201.42 L117.5,201.92 L118.25,201.49 L119,201.83 L119.75,202.55 L120.5,202.27 L121.25,202.45 L122,202.16 L122.75,202.09 L123.5,202.61 L124.25,202.23 L125,201.91 L125.7,202.52 L126.41,203.21 L127.11,202.8 L127.81,203.27 L128.52,202.83 L129.22,203.28 L129.93,202.78 L130.63,202.31 L131.33,202.09 L132.04,202.68 L132.74,201.94 L133.44,201.98 L134.15,202.08 L134.85,201.8 L135.56,202.49 L136.26,202.63 L136.96,202.77 L137.67,202.69 L138.37,202.93 L139.07,202.81 L139.78,202.54 L140.48,202.37 L141.19,202.73 L141.89,201.97 L142.59,202.32 L143.3,202.62 L144,202.15 L144.7,202.06 L145.41,202.4 L146.11,202.53 L146.81,202.16 L147.52,202.5 L148.22,202.53 L148.93,202.06 L149.63,202.21 L150.33,202.19 L151.04,202.42 L151.74,202.55 L152.44,202.42 L153.15,202.15 L153.85,202.32 L154.56,202.38 L155.26,202.68 L155.96,202.15 L156.67,202.92 L157.37,202.62 L158.07,202.99 L158.78,203.35 L159.48,203.02 L160.19,203.01 L160.89,202.39 L161.59,202.12 L162.3,202.25 L163,202.5" fill="none" stroke="#111" stroke-width="1.3" stroke-linejoin="round"/>
<g stroke="#9a9a9a" stroke-width="0.75" fill="none"><path d="M114,238.2 L109.2,238.2 L109.2,221.8 L154.8,221.8 L154.8,238.2 L150,238.2"/><path d="M114,246.2 L109.2,246.2 L109.2,262.5 L154.8,262.5 L154.8,246.2 L150,246.2"/></g>
<rect x="114" y="236.7" width="36.3" height="3" fill="#d0202a"/>
<rect x="113.8" y="244.3" width="36.7" height="3.5" rx="1.2" fill="#111"/>
<circle cx="131" cy="222.2" r="4.2" fill="#c4c4c4" stroke="#444" stroke-width="0.6"/>
<text x="131.2" y="225.4" font-size="8" text-anchor="middle" font-weight="normal" fill="#222" stroke="#222" stroke-width="0.18" font-style="normal" >V</text>
<path d="M127.5,225 L138,216.6" stroke="#222" stroke-width="0.8"/><path d="M139.8,215.2 L135.6,216.2 L137.8,218.8 Z" fill="#222"/>
<text x="132" y="234.5" font-size="6" text-anchor="middle" font-weight="bold" fill="#c8182a" stroke="#c8182a" stroke-width="0" font-style="normal" >MG</text>
<text x="132.4" y="253.8" font-size="6" text-anchor="middle" font-weight="bold" fill="#111" stroke="#111" stroke-width="0" font-style="normal" >G</text>
<rect x="121" y="255" width="1.8" height="6.5" fill="#111"/>
<circle cx="132" cy="262.5" r="4.9" fill="#c4c4c4" stroke="#555" stroke-width="0.6"/>
<path d="M136.2,262.5 L129,262.5" stroke="#222" stroke-width="0.8"/><path d="M127.2,262.5 L130,260.9 L130,264.1 Z" fill="#222"/>
<line x1="199.6" y1="174" x2="200.8" y2="174" stroke="#333" stroke-width="0.6"/>
<line x1="199.6" y1="193.33" x2="200.8" y2="193.33" stroke="#333" stroke-width="0.6"/>
<line x1="199.6" y1="212.67" x2="200.8" y2="212.67" stroke="#333" stroke-width="0.6"/>
<line x1="199.6" y1="232" x2="200.8" y2="232" stroke="#333" stroke-width="0.6"/>
<line x1="199.6" y1="251.34" x2="200.8" y2="251.34" stroke="#333" stroke-width="0.6"/>
<line x1="199.6" y1="270.67" x2="200.8" y2="270.67" stroke="#333" stroke-width="0.6"/>
<rect x="199.5" y="164.5" width="138" height="111" fill="none" stroke="#4a4a4a" stroke-width="1"/>
<line x1="203.6" y1="275.6" x2="203.6" y2="273.6" stroke="#333" stroke-width="0.7"/>
<text x="203.6" y="284.7" font-size="8.47" text-anchor="middle" font-weight="normal" fill="#231f20" stroke="#231f20" stroke-width="0.18" font-style="normal" textLength="6.67" lengthAdjust="spacingAndGlyphs" >-2</text>
<line x1="236.2" y1="275.6" x2="236.2" y2="273.6" stroke="#333" stroke-width="0.7"/>
<text x="236.2" y="284.7" font-size="8.47" text-anchor="middle" font-weight="normal" fill="#231f20" stroke="#231f20" stroke-width="0.18" font-style="normal" textLength="6.67" lengthAdjust="spacingAndGlyphs" >-1</text>
<line x1="268.8" y1="275.6" x2="268.8" y2="273.6" stroke="#333" stroke-width="0.7"/>
<text x="268.8" y="284.7" font-size="8.47" text-anchor="middle" font-weight="normal" fill="#231f20" stroke="#231f20" stroke-width="0.18" font-style="normal" textLength="4.17" lengthAdjust="spacingAndGlyphs" >0</text>
<line x1="301.4" y1="275.6" x2="301.4" y2="273.6" stroke="#333" stroke-width="0.7"/>
<text x="301.4" y="284.7" font-size="8.47" text-anchor="middle" font-weight="normal" fill="#231f20" stroke="#231f20" stroke-width="0.18" font-style="normal" textLength="4.17" lengthAdjust="spacingAndGlyphs" >1</text>
<line x1="334" y1="275.6" x2="334" y2="273.6" stroke="#333" stroke-width="0.7"/>
<text x="334" y="284.7" font-size="8.47" text-anchor="middle" font-weight="normal" fill="#231f20" stroke="#231f20" stroke-width="0.18" font-style="normal" textLength="4.17" lengthAdjust="spacingAndGlyphs" >2</text>
<line x1="219.9" y1="275.6" x2="219.9" y2="274.40000000000003" stroke="#333" stroke-width="0.6"/>
<line x1="252.5" y1="275.6" x2="252.5" y2="274.40000000000003" stroke="#333" stroke-width="0.6"/>
<line x1="285.1" y1="275.6" x2="285.1" y2="274.40000000000003" stroke="#333" stroke-width="0.6"/>
<line x1="317.7" y1="275.6" x2="317.7" y2="274.40000000000003" stroke="#333" stroke-width="0.6"/>
<line x1="199.6" y1="164.33" x2="201.6" y2="164.33" stroke="#333" stroke-width="0.7"/>
<text x="197" y="167.43" font-size="8.47" text-anchor="end" font-weight="normal" fill="#231f20" stroke="#231f20" stroke-width="0.18" font-style="normal" textLength="8.34" lengthAdjust="spacingAndGlyphs" >40</text>
<line x1="199.6" y1="183.67" x2="201.6" y2="183.67" stroke="#333" stroke-width="0.7"/>
<text x="197" y="186.77" font-size="8.47" text-anchor="end" font-weight="normal" fill="#231f20" stroke="#231f20" stroke-width="0.18" font-style="normal" textLength="8.34" lengthAdjust="spacingAndGlyphs" >20</text>
<line x1="199.6" y1="203" x2="201.6" y2="203" stroke="#333" stroke-width="0.7"/>
<text x="197" y="206.1" font-size="8.47" text-anchor="end" font-weight="normal" fill="#231f20" stroke="#231f20" stroke-width="0.18" font-style="normal" textLength="4.17" lengthAdjust="spacingAndGlyphs" >0</text>
<line x1="199.6" y1="222.33" x2="201.6" y2="222.33" stroke="#333" stroke-width="0.7"/>
<text x="197" y="225.43" font-size="8.47" text-anchor="end" font-weight="normal" fill="#231f20" stroke="#231f20" stroke-width="0.18" font-style="normal" textLength="10.84" lengthAdjust="spacingAndGlyphs" >-20</text>
<line x1="199.6" y1="241.67" x2="201.6" y2="241.67" stroke="#333" stroke-width="0.7"/>
<text x="197" y="244.77" font-size="8.47" text-anchor="end" font-weight="normal" fill="#231f20" stroke="#231f20" stroke-width="0.18" font-style="normal" textLength="10.84" lengthAdjust="spacingAndGlyphs" >-40</text>
<line x1="199.6" y1="261" x2="201.6" y2="261" stroke="#333" stroke-width="0.7"/>
<text x="197" y="264.1" font-size="8.47" text-anchor="end" font-weight="normal" fill="#231f20" stroke="#231f20" stroke-width="0.18" font-style="normal" textLength="10.84" lengthAdjust="spacingAndGlyphs" >-60</text>
<text x="254.7" y="295.8" font-size="9.3" fill="#231f20"><tspan font-style="italic">V</tspan><tspan font-size="6.3" dy="2.2">int</tspan><tspan dy="-2.2"> (V)</tspan></text>
<g transform="translate(180.8,211.2) rotate(-90)" fill="#231f20"><text x="-16.6" y="0.3" font-size="10" font-style="italic" stroke="#231f20" stroke-width="0.15">R</text><text x="-10.2" y="2.5" font-size="6.2" stroke="#231f20" stroke-width="0.12">0</text><text x="-7.9" y="-4.6" font-size="5.6" stroke="#231f20" stroke-width="0.12">MG</text><text x="3.4" y="0" font-size="9.2" stroke="#231f20" stroke-width="0.15">(Ω)</text></g>
<text x="220.2" y="177.4" font-size="9.78" text-anchor="start" font-weight="bold" fill="#231f20" stroke="#231f20" stroke-width="0" font-style="normal" textLength="25.08" lengthAdjust="spacingAndGlyphs" >150 K</text>
<path d="M201.6,202.6 C207.06,202.6 231.79,202.54 238,202.6 C244.21,202.66 241.8,202.81 243,203 C244.2,203.19 245.25,203.72 246,203.9 C246.75,204.08 247.25,204.27 248,204.2 C248.75,204.12 249.95,203.88 251,203.4 C252.05,202.92 253.8,201.84 255,201 C256.2,200.16 258.06,198.5 259,197.8 C259.94,197.1 260.76,196.33 261.3,196.3 C261.84,196.27 262.25,196.75 262.6,197.6 C262.95,198.45 263.27,199.24 263.6,202 C263.93,204.76 264.34,209.93 264.8,216 C265.26,222.07 266.18,241.6 266.7,242.5 C267.22,243.4 267.87,228.82 268.3,222 C268.74,215.18 269.24,203.15 269.6,197 C269.96,190.85 270.41,183.93 270.7,181 C270.99,178.07 271.25,177.72 271.5,177.5 C271.75,177.28 272.1,178.38 272.4,179.5 C272.7,180.62 273.03,183.05 273.5,185 C273.97,186.95 274.82,190.73 275.5,192.5 C276.18,194.27 277.18,195.68 278,196.8 C278.82,197.93 280.1,199.18 281,200 C281.9,200.82 282.95,201.72 284,202.3 C285.05,202.89 286.8,203.8 288,203.9 C289.2,204 290.2,203.21 292,203 C293.8,202.79 293.62,202.57 300,202.5 C306.38,202.43 329.32,202.5 334.5,202.5" fill="none" stroke="#111" stroke-width="1.3" stroke-linejoin="round"/>
<path d="M244.2,191.3 L249,191.3 L246.6,200.1 Z" fill="#ff8410"/>
<path d="M284.7,191.3 L289.5,191.3 L287.1,200.1 Z" fill="#ff8410"/>
<line x1="371.4" y1="174" x2="372.6" y2="174" stroke="#333" stroke-width="0.6"/>
<line x1="371.4" y1="193.33" x2="372.6" y2="193.33" stroke="#333" stroke-width="0.6"/>
<line x1="371.4" y1="212.67" x2="372.6" y2="212.67" stroke="#333" stroke-width="0.6"/>
<line x1="371.4" y1="232" x2="372.6" y2="232" stroke="#333" stroke-width="0.6"/>
<line x1="371.4" y1="251.34" x2="372.6" y2="251.34" stroke="#333" stroke-width="0.6"/>
<line x1="371.4" y1="270.67" x2="372.6" y2="270.67" stroke="#333" stroke-width="0.6"/>
<rect x="371.5" y="164.5" width="138" height="111" fill="none" stroke="#4a4a4a" stroke-width="1"/>
<line x1="375.4" y1="275.6" x2="375.4" y2="273.6" stroke="#333" stroke-width="0.7"/>
<text x="375.4" y="284.7" font-size="8.47" text-anchor="middle" font-weight="normal" fill="#231f20" stroke="#231f20" stroke-width="0.18" font-style="normal" textLength="6.67" lengthAdjust="spacingAndGlyphs" >-2</text>
<line x1="408" y1="275.6" x2="408" y2="273.6" stroke="#333" stroke-width="0.7"/>
<text x="408" y="284.7" font-size="8.47" text-anchor="middle" font-weight="normal" fill="#231f20" stroke="#231f20" stroke-width="0.18" font-style="normal" textLength="6.67" lengthAdjust="spacingAndGlyphs" >-1</text>
<line x1="440.6" y1="275.6" x2="440.6" y2="273.6" stroke="#333" stroke-width="0.7"/>
<text x="440.6" y="284.7" font-size="8.47" text-anchor="middle" font-weight="normal" fill="#231f20" stroke="#231f20" stroke-width="0.18" font-style="normal" textLength="4.17" lengthAdjust="spacingAndGlyphs" >0</text>
<line x1="473.2" y1="275.6" x2="473.2" y2="273.6" stroke="#333" stroke-width="0.7"/>
<text x="473.2" y="284.7" font-size="8.47" text-anchor="middle" font-weight="normal" fill="#231f20" stroke="#231f20" stroke-width="0.18" font-style="normal" textLength="4.17" lengthAdjust="spacingAndGlyphs" >1</text>
<line x1="505.8" y1="275.6" x2="505.8" y2="273.6" stroke="#333" stroke-width="0.7"/>
<text x="505.8" y="284.7" font-size="8.47" text-anchor="middle" font-weight="normal" fill="#231f20" stroke="#231f20" stroke-width="0.18" font-style="normal" textLength="4.17" lengthAdjust="spacingAndGlyphs" >2</text>
<line x1="391.7" y1="275.6" x2="391.7" y2="274.40000000000003" stroke="#333" stroke-width="0.6"/>
<line x1="424.3" y1="275.6" x2="424.3" y2="274.40000000000003" stroke="#333" stroke-width="0.6"/>
<line x1="456.9" y1="275.6" x2="456.9" y2="274.40000000000003" stroke="#333" stroke-width="0.6"/>
<line x1="489.5" y1="275.6" x2="489.5" y2="274.40000000000003" stroke="#333" stroke-width="0.6"/>
<line x1="371.4" y1="164.33" x2="373.4" y2="164.33" stroke="#333" stroke-width="0.7"/>
<text x="368.8" y="167.43" font-size="8.47" text-anchor="end" font-weight="normal" fill="#231f20" stroke="#231f20" stroke-width="0.18" font-style="normal" textLength="8.34" lengthAdjust="spacingAndGlyphs" >40</text>
<line x1="371.4" y1="183.67" x2="373.4" y2="183.67" stroke="#333" stroke-width="0.7"/>
<text x="368.8" y="186.77" font-size="8.47" text-anchor="end" font-weight="normal" fill="#231f20" stroke="#231f20" stroke-width="0.18" font-style="normal" textLength="8.34" lengthAdjust="spacingAndGlyphs" >20</text>
<line x1="371.4" y1="203" x2="373.4" y2="203" stroke="#333" stroke-width="0.7"/>
<text x="368.8" y="206.1" font-size="8.47" text-anchor="end" font-weight="normal" fill="#231f20" stroke="#231f20" stroke-width="0.18" font-style="normal" textLength="4.17" lengthAdjust="spacingAndGlyphs" >0</text>
<line x1="371.4" y1="222.33" x2="373.4" y2="222.33" stroke="#333" stroke-width="0.7"/>
<text x="368.8" y="225.43" font-size="8.47" text-anchor="end" font-weight="normal" fill="#231f20" stroke="#231f20" stroke-width="0.18" font-style="normal" textLength="10.84" lengthAdjust="spacingAndGlyphs" >-20</text>
<line x1="371.4" y1="241.67" x2="373.4" y2="241.67" stroke="#333" stroke-width="0.7"/>
<text x="368.8" y="244.77" font-size="8.47" text-anchor="end" font-weight="normal" fill="#231f20" stroke="#231f20" stroke-width="0.18" font-style="normal" textLength="10.84" lengthAdjust="spacingAndGlyphs" >-40</text>
<line x1="371.4" y1="261" x2="373.4" y2="261" stroke="#333" stroke-width="0.7"/>
<text x="368.8" y="264.1" font-size="8.47" text-anchor="end" font-weight="normal" fill="#231f20" stroke="#231f20" stroke-width="0.18" font-style="normal" textLength="10.84" lengthAdjust="spacingAndGlyphs" >-60</text>
<text x="426.5" y="295.8" font-size="9.3" fill="#231f20"><tspan font-style="italic">V</tspan><tspan font-size="6.3" dy="2.2">int</tspan><tspan dy="-2.2"> (V)</tspan></text>
<g transform="translate(352.6,211.2) rotate(-90)" fill="#231f20"><text x="-16.6" y="0.3" font-size="10" font-style="italic" stroke="#231f20" stroke-width="0.15">R</text><text x="-10.2" y="2.5" font-size="6.2" stroke="#231f20" stroke-width="0.12">0</text><text x="-7.9" y="-4.6" font-size="5.6" stroke="#231f20" stroke-width="0.12">MG</text><text x="3.4" y="0" font-size="9.2" stroke="#231f20" stroke-width="0.15">(Ω)</text></g>
<text x="392" y="177.4" font-size="9.78" text-anchor="start" font-weight="bold" fill="#231f20" stroke="#231f20" stroke-width="0" font-style="normal" textLength="19.86" lengthAdjust="spacingAndGlyphs" >50 K</text>
<path d="M374,202.4 C379.4,202.37 404.15,202.38 410,202.2 C415.85,202.02 412.25,201.44 413,201.2 C413.75,200.96 414.46,200.25 415,200.6 C415.54,200.94 416.15,201.56 416.6,203.5 C417.05,205.44 417.58,213.43 418,213.5 C418.42,213.57 418.98,205.94 419.4,204 C419.82,202.06 420.26,201.08 420.8,200.6 C421.34,200.12 422.07,200.59 423,200.8 C423.93,201.01 425.8,201.97 427,202 C428.2,202.03 429.95,201.68 431,201 C432.05,200.32 433.28,199 434,197.5 C434.72,196 435.38,191.53 435.8,191 C436.22,190.47 436.5,188.15 436.8,194 C437.1,199.85 437.5,218.75 437.8,230 C438.1,241.25 438.5,268.25 438.8,269 C439.1,269.75 439.55,246.55 439.8,235 C440.06,223.45 440.32,201 440.5,192 C440.68,183 440.87,178.84 441,175 C441.13,171.16 441.23,167.15 441.35,166.4 C441.47,165.65 441.64,168.41 441.8,170 C441.96,171.59 442.17,174.6 442.4,177 C442.62,179.4 442.97,183.6 443.3,186 C443.63,188.4 444.12,191.35 444.6,193 C445.08,194.65 445.69,196.07 446.5,197 C447.31,197.93 448.88,198.6 450,199.2 C451.12,199.8 453.06,200.75 454,201 C454.94,201.25 455.73,200.38 456.3,200.9 C456.87,201.43 457.35,202.66 457.8,204.5 C458.25,206.34 458.93,211.65 459.3,213.2 C459.68,214.75 459.99,215.06 460.3,214.8 C460.62,214.55 461.07,213.12 461.4,211.5 C461.73,209.88 462.11,205.59 462.5,204 C462.89,202.41 463.32,201.28 464,200.9 C464.68,200.53 466.1,201.31 467,201.5 C467.9,201.69 464.15,202.06 470,202.2 C475.85,202.33 500.6,202.37 506,202.4" fill="none" stroke="#111" stroke-width="1.3" stroke-linejoin="round"/>
<path d="M415.7,188.3 L420.5,188.3 L418.1,197.1 Z" fill="#ff8410"/>
<path d="M456.5,188.3 L461.3,188.3 L458.9,197.1 Z" fill="#ff8410"/>
<path d="M381.2,191.8 L386,191.8 L383.6,200.6 Z" fill="#ff00ff"/>
<path d="M491.6,191.8 L496.4,191.8 L494,200.6 Z" fill="#ff00ff"/>
<line x1="544" y1="186.5" x2="545.2" y2="186.5" stroke="#333" stroke-width="0.6"/>
<line x1="544" y1="208.3" x2="545.2" y2="208.3" stroke="#333" stroke-width="0.6"/>
<line x1="544" y1="230.1" x2="545.2" y2="230.1" stroke="#333" stroke-width="0.6"/>
<line x1="544" y1="251.9" x2="545.2" y2="251.9" stroke="#333" stroke-width="0.6"/>
<line x1="544" y1="273.7" x2="545.2" y2="273.7" stroke="#333" stroke-width="0.6"/>
<rect x="544.5" y="164.5" width="138" height="111" fill="none" stroke="#4a4a4a" stroke-width="1"/>
<line x1="548" y1="275.6" x2="548" y2="273.6" stroke="#333" stroke-width="0.7"/>
<text x="548" y="284.7" font-size="8.47" text-anchor="middle" font-weight="normal" fill="#231f20" stroke="#231f20" stroke-width="0.18" font-style="normal" textLength="6.67" lengthAdjust="spacingAndGlyphs" >-2</text>
<line x1="580.6" y1="275.6" x2="580.6" y2="273.6" stroke="#333" stroke-width="0.7"/>
<text x="580.6" y="284.7" font-size="8.47" text-anchor="middle" font-weight="normal" fill="#231f20" stroke="#231f20" stroke-width="0.18" font-style="normal" textLength="6.67" lengthAdjust="spacingAndGlyphs" >-1</text>
<line x1="613.2" y1="275.6" x2="613.2" y2="273.6" stroke="#333" stroke-width="0.7"/>
<text x="613.2" y="284.7" font-size="8.47" text-anchor="middle" font-weight="normal" fill="#231f20" stroke="#231f20" stroke-width="0.18" font-style="normal" textLength="4.17" lengthAdjust="spacingAndGlyphs" >0</text>
<line x1="645.8" y1="275.6" x2="645.8" y2="273.6" stroke="#333" stroke-width="0.7"/>
<text x="645.8" y="284.7" font-size="8.47" text-anchor="middle" font-weight="normal" fill="#231f20" stroke="#231f20" stroke-width="0.18" font-style="normal" textLength="4.17" lengthAdjust="spacingAndGlyphs" >1</text>
<line x1="678.4" y1="275.6" x2="678.4" y2="273.6" stroke="#333" stroke-width="0.7"/>
<text x="678.4" y="284.7" font-size="8.47" text-anchor="middle" font-weight="normal" fill="#231f20" stroke="#231f20" stroke-width="0.18" font-style="normal" textLength="4.17" lengthAdjust="spacingAndGlyphs" >2</text>
<line x1="564.3" y1="275.6" x2="564.3" y2="274.40000000000003" stroke="#333" stroke-width="0.6"/>
<line x1="596.9" y1="275.6" x2="596.9" y2="274.40000000000003" stroke="#333" stroke-width="0.6"/>
<line x1="629.5" y1="275.6" x2="629.5" y2="274.40000000000003" stroke="#333" stroke-width="0.6"/>
<line x1="662.1" y1="275.6" x2="662.1" y2="274.40000000000003" stroke="#333" stroke-width="0.6"/>
<line x1="544" y1="175.6" x2="546" y2="175.6" stroke="#333" stroke-width="0.7"/>
<text x="541.4" y="178.7" font-size="8.47" text-anchor="end" font-weight="normal" fill="#231f20" stroke="#231f20" stroke-width="0.18" font-style="normal" textLength="12.51" lengthAdjust="spacingAndGlyphs" >200</text>
<line x1="544" y1="197.4" x2="546" y2="197.4" stroke="#333" stroke-width="0.7"/>
<text x="541.4" y="200.5" font-size="8.47" text-anchor="end" font-weight="normal" fill="#231f20" stroke="#231f20" stroke-width="0.18" font-style="normal" textLength="4.17" lengthAdjust="spacingAndGlyphs" >0</text>
<line x1="544" y1="219.2" x2="546" y2="219.2" stroke="#333" stroke-width="0.7"/>
<text x="541.4" y="222.3" font-size="8.47" text-anchor="end" font-weight="normal" fill="#231f20" stroke="#231f20" stroke-width="0.18" font-style="normal" textLength="15.01" lengthAdjust="spacingAndGlyphs" >-200</text>
<line x1="544" y1="241" x2="546" y2="241" stroke="#333" stroke-width="0.7"/>
<text x="541.4" y="244.1" font-size="8.47" text-anchor="end" font-weight="normal" fill="#231f20" stroke="#231f20" stroke-width="0.18" font-style="normal" textLength="15.01" lengthAdjust="spacingAndGlyphs" >-400</text>
<line x1="544" y1="262.8" x2="546" y2="262.8" stroke="#333" stroke-width="0.7"/>
<text x="541.4" y="265.9" font-size="8.47" text-anchor="end" font-weight="normal" fill="#231f20" stroke="#231f20" stroke-width="0.18" font-style="normal" textLength="15.01" lengthAdjust="spacingAndGlyphs" >-600</text>
<text x="599.1" y="295.8" font-size="9.3" fill="#231f20"><tspan font-style="italic">V</tspan><tspan font-size="6.3" dy="2.2">int</tspan><tspan dy="-2.2"> (V)</tspan></text>
<g transform="translate(520.8,211.2) rotate(-90)" fill="#231f20"><text x="-16.6" y="0.3" font-size="10" font-style="italic" stroke="#231f20" stroke-width="0.15">R</text><text x="-10.2" y="2.5" font-size="6.2" stroke="#231f20" stroke-width="0.12">0</text><text x="-7.9" y="-4.6" font-size="5.6" stroke="#231f20" stroke-width="0.12">MG</text><text x="3.4" y="0" font-size="9.2" stroke="#231f20" stroke-width="0.15">(Ω)</text></g>
<text x="564.6" y="177.4" font-size="9.78" text-anchor="start" font-weight="bold" fill="#231f20" stroke="#231f20" stroke-width="0" font-style="normal" textLength="22.47" lengthAdjust="spacingAndGlyphs" >1.5 K</text>
<path d="M546.6,197.3 C552.21,197.28 578.09,197.36 584,197.2 C589.91,197.03 585.4,196.59 586,196.2 C586.6,195.81 587.5,194.33 588,194.6 C588.5,194.87 588.94,194.94 589.3,198 C589.66,201.06 590.08,214.7 590.4,215 C590.72,215.3 591.13,203 591.4,200 C591.67,197 591.96,195.99 592.2,195 C592.44,194.01 592.58,193.25 593,193.4 C593.42,193.55 593.95,195.58 595,196 C596.05,196.42 598.5,196.27 600,196.2 C601.5,196.12 603.92,195.98 605,195.5 C606.08,195.02 606.57,194.25 607.2,193 C607.83,191.75 608.8,187.35 609.2,187.2 C609.61,187.05 609.69,179.28 609.9,192 C610.11,204.72 610.36,270.05 610.6,272 C610.84,273.95 611.27,218.8 611.5,205 C611.73,191.2 611.94,185.56 612.1,180 C612.26,174.44 612.41,169.25 612.55,167.9 C612.68,166.55 612.84,169.78 613,171 C613.16,172.22 613.39,174.5 613.6,176 C613.81,177.5 614.1,178.9 614.4,181 C614.7,183.1 615.21,187.9 615.6,190 C615.99,192.1 616.34,194.03 617,195 C617.66,195.97 618.5,196.2 620,196.5 C621.5,196.8 625.5,196.9 627,197 C628.5,197.1 629.1,196.69 630,197.2 C630.9,197.71 632.17,200.36 633,200.4 C633.83,200.44 634.45,197.98 635.5,197.5 C636.55,197.02 633.4,197.23 640,197.2 C646.6,197.17 673.58,197.28 679.5,197.3" fill="none" stroke="#111" stroke-width="1.3" stroke-linejoin="round"/>
<path d="M588.6,183.1 L593.4,183.1 L591,191.9 Z" fill="#ff8410"/>
<path d="M629.1,183.1 L633.9,183.1 L631.5,191.9 Z" fill="#ff8410"/>
<path d="M553.2,186.7 L558,186.7 L555.6,195.5 Z" fill="#ff00ff"/>
<path d="M664.2,186.7 L669,186.7 L666.6,195.5 Z" fill="#ff00ff"/>
<rect x="389.5" y="225.5" width="42" height="33" fill="#fff" stroke="#505050" stroke-width="0.9"/>
<line x1="389.4" y1="225.6" x2="390.9" y2="225.6" stroke="#333" stroke-width="0.6"/>
<text x="387.9" y="228.6" font-size="8.4" text-anchor="end" font-weight="normal" fill="#231f20" stroke="#231f20" stroke-width="0.18" font-style="normal" textLength="10.43" lengthAdjust="spacingAndGlyphs" >0.3</text>
<line x1="389.4" y1="239.4" x2="431.4" y2="239.4" stroke="#999" stroke-width="0.6"/>
<line x1="389.4" y1="239.4" x2="390.9" y2="239.4" stroke="#333" stroke-width="0.6"/>
<text x="387.9" y="242.4" font-size="8.4" text-anchor="end" font-weight="normal" fill="#231f20" stroke="#231f20" stroke-width="0.18" font-style="normal" textLength="10.43" lengthAdjust="spacingAndGlyphs" >0.0</text>
<line x1="389.4" y1="253" x2="390.9" y2="253" stroke="#333" stroke-width="0.6"/>
<text x="387.9" y="256" font-size="8.4" text-anchor="end" font-weight="normal" fill="#231f20" stroke="#231f20" stroke-width="0.18" font-style="normal" textLength="12.92" lengthAdjust="spacingAndGlyphs" >-0.3</text>
<line x1="389.4" y1="258.0" x2="389.4" y2="256.5" stroke="#333" stroke-width="0.6"/>
<text x="389.4" y="266.2" font-size="8.51" text-anchor="middle" font-weight="normal" fill="#231f20" stroke="#231f20" stroke-width="0.18" font-style="normal" textLength="13.1" lengthAdjust="spacingAndGlyphs" >-2.0</text>
<line x1="408" y1="258.0" x2="408" y2="256.5" stroke="#333" stroke-width="0.6"/>
<text x="408" y="266.2" font-size="8.51" text-anchor="middle" font-weight="normal" fill="#231f20" stroke="#231f20" stroke-width="0.18" font-style="normal" textLength="13.1" lengthAdjust="spacingAndGlyphs" >-1.8</text>
<line x1="424" y1="258.0" x2="424" y2="256.5" stroke="#333" stroke-width="0.6"/>
<text x="424" y="266.2" font-size="8.51" text-anchor="middle" font-weight="normal" fill="#231f20" stroke="#231f20" stroke-width="0.18" font-style="normal" textLength="13.1" lengthAdjust="spacingAndGlyphs" >-1.6</text>
<path d="M389.6,226.93 L391.1,236.78 L392.6,245.77 L393.5,238.19 L394.75,239.23 L396,239.22 L397.25,239.37 L398.5,241.11 L399.75,240.32 L401,240.52 L402.2,245.89 L403.4,248.95 L404.6,253.61 L405.8,248.96 L407,245.25 L408.5,244.87 L410,246.24 L411.25,246.16 L412.5,245.04 L413.75,244.93 L415,244.31 L416.5,239.72 L418,237.46 L419.17,236.75 L420.33,235.81 L421.5,234.91 L422.67,235.99 L423.83,234.87 L425,234.89 L426.2,235.38 L427.4,235.29 L428.6,235.86 L429.8,235.11 L431,235.5" fill="none" stroke="#111" stroke-width="1.3" stroke-linejoin="round"/>
<path d="M410.2,227.7 L413.8,227.7 L412,233.5 Z" fill="#ff00ff"/>
<rect x="460.5" y="225.5" width="42" height="33" fill="#fff" stroke="#505050" stroke-width="0.9"/>
<line x1="460.6" y1="225.6" x2="462.1" y2="225.6" stroke="#333" stroke-width="0.6"/>
<text x="459.1" y="228.6" font-size="8.4" text-anchor="end" font-weight="normal" fill="#231f20" stroke="#231f20" stroke-width="0.18" font-style="normal" textLength="10.43" lengthAdjust="spacingAndGlyphs" >0.5</text>
<line x1="460.6" y1="239.4" x2="503" y2="239.4" stroke="#999" stroke-width="0.6"/>
<line x1="460.6" y1="239.4" x2="462.1" y2="239.4" stroke="#333" stroke-width="0.6"/>
<text x="459.1" y="242.4" font-size="8.4" text-anchor="end" font-weight="normal" fill="#231f20" stroke="#231f20" stroke-width="0.18" font-style="normal" textLength="10.43" lengthAdjust="spacingAndGlyphs" >0.0</text>
<line x1="460.6" y1="252.4" x2="462.1" y2="252.4" stroke="#333" stroke-width="0.6"/>
<text x="459.1" y="255.4" font-size="8.4" text-anchor="end" font-weight="normal" fill="#231f20" stroke="#231f20" stroke-width="0.18" font-style="normal" textLength="12.92" lengthAdjust="spacingAndGlyphs" >-0.5</text>
<line x1="470" y1="258.0" x2="470" y2="256.5" stroke="#333" stroke-width="0.6"/>
<text x="470" y="266.2" font-size="8.51" text-anchor="middle" font-weight="normal" fill="#231f20" stroke="#231f20" stroke-width="0.18" font-style="normal" textLength="10.57" lengthAdjust="spacingAndGlyphs" >1.6</text>
<line x1="492.4" y1="258.0" x2="492.4" y2="256.5" stroke="#333" stroke-width="0.6"/>
<text x="492.4" y="266.2" font-size="8.51" text-anchor="middle" font-weight="normal" fill="#231f20" stroke="#231f20" stroke-width="0.18" font-style="normal" textLength="10.57" lengthAdjust="spacingAndGlyphs" >1.8</text>
<path d="M460.8,236.54 L462.2,233.9 L463.6,232.78 L465,230.68 L466.5,231.78 L468,234.34 L469.33,237.16 L470.67,241.17 L472,242.89 L474,250.23 L475.17,249.98 L476.33,250.68 L477.5,250.79 L478.67,251.06 L479.83,251.82 L481,252.15 L482.33,250.39 L483.67,247.66 L485,245.77 L486.33,243.97 L487.67,242.55 L489,240.31 L490.25,237.64 L491.5,237.15 L492.75,235.59 L494,233.73 L495.2,237.62 L496.4,242.38 L497.68,239.48 L498.96,238.6 L500.24,236.13 L501.52,233.61 L502.8,232" fill="none" stroke="#111" stroke-width="1.3" stroke-linejoin="round"/>
<path d="M474.6,227.7 L478.2,227.7 L476.4,233.5 Z" fill="#ff00ff"/>
<rect x="560.5" y="225.5" width="41" height="33" fill="#fff" stroke="#505050" stroke-width="0.9"/>
<line x1="560.6" y1="225.6" x2="562.1" y2="225.6" stroke="#333" stroke-width="0.6"/>
<text x="559.1" y="228.6" font-size="8.4" text-anchor="end" font-weight="normal" fill="#231f20" stroke="#231f20" stroke-width="0.18" font-style="normal" textLength="4.17" lengthAdjust="spacingAndGlyphs" >2</text>
<line x1="560.6" y1="238.6" x2="601.6" y2="238.6" stroke="#999" stroke-width="0.6"/>
<line x1="560.6" y1="238.6" x2="562.1" y2="238.6" stroke="#333" stroke-width="0.6"/>
<text x="559.1" y="241.6" font-size="8.4" text-anchor="end" font-weight="normal" fill="#231f20" stroke="#231f20" stroke-width="0.18" font-style="normal" textLength="4.17" lengthAdjust="spacingAndGlyphs" >0</text>
<line x1="560.6" y1="251.6" x2="562.1" y2="251.6" stroke="#333" stroke-width="0.6"/>
<text x="559.1" y="254.6" font-size="8.4" text-anchor="end" font-weight="normal" fill="#231f20" stroke="#231f20" stroke-width="0.18" font-style="normal" textLength="6.67" lengthAdjust="spacingAndGlyphs" >-2</text>
<line x1="560.6" y1="258.0" x2="560.6" y2="256.5" stroke="#333" stroke-width="0.6"/>
<text x="560.6" y="266.2" font-size="8.51" text-anchor="middle" font-weight="normal" fill="#231f20" stroke="#231f20" stroke-width="0.18" font-style="normal" textLength="13.1" lengthAdjust="spacingAndGlyphs" >-2.0</text>
<line x1="579.4" y1="258.0" x2="579.4" y2="256.5" stroke="#333" stroke-width="0.6"/>
<text x="579.4" y="266.2" font-size="8.51" text-anchor="middle" font-weight="normal" fill="#231f20" stroke="#231f20" stroke-width="0.18" font-style="normal" textLength="13.1" lengthAdjust="spacingAndGlyphs" >-1.8</text>
<line x1="595.6" y1="258.0" x2="595.6" y2="256.5" stroke="#333" stroke-width="0.6"/>
<text x="595.6" y="266.2" font-size="8.51" text-anchor="middle" font-weight="normal" fill="#231f20" stroke="#231f20" stroke-width="0.18" font-style="normal" textLength="13.1" lengthAdjust="spacingAndGlyphs" >-1.6</text>
<path d="M560.8,233.21 L561.4,233.14 L563,240.88 L564.1,239.26 L565.2,240.54 L566.3,239.84 L567.4,239.37 L568.5,239.63 L569.6,240.48 L570.7,240.67 L571.8,239.18 L572.9,240.21 L574,239.18 L575.5,242.89 L577,244.7 L578.33,248.02 L579.67,250.53 L581,252.01 L582,253.9 L583.5,246.16 L585,239.24 L586.5,235.48 L588,229.76 L589.5,231.26 L591,232.83 L592.5,236.7 L594,239.38 L595.23,238.84 L596.47,240 L597.7,238.66 L598.93,239.49 L600.17,239.05 L601.4,238" fill="none" stroke="#111" stroke-width="1.3" stroke-linejoin="round"/>
<path d="M580.6,227.7 L584.2,227.7 L582.4,233.5 Z" fill="#ff00ff"/>
<rect x="629.5" y="225.5" width="42" height="33" fill="#fff" stroke="#505050" stroke-width="0.9"/>
<line x1="629.4" y1="236" x2="671.6" y2="236" stroke="#999" stroke-width="0.6"/>
<line x1="629.4" y1="236" x2="630.9" y2="236" stroke="#333" stroke-width="0.6"/>
<text x="627.9" y="239" font-size="8.4" text-anchor="end" font-weight="normal" fill="#231f20" stroke="#231f20" stroke-width="0.18" font-style="normal" textLength="4.17" lengthAdjust="spacingAndGlyphs" >0</text>
<line x1="629.4" y1="253" x2="630.9" y2="253" stroke="#333" stroke-width="0.6"/>
<text x="627.9" y="256" font-size="8.4" text-anchor="end" font-weight="normal" fill="#231f20" stroke="#231f20" stroke-width="0.18" font-style="normal" textLength="6.67" lengthAdjust="spacingAndGlyphs" >-3</text>
<line x1="639.6" y1="258.0" x2="639.6" y2="256.5" stroke="#333" stroke-width="0.6"/>
<text x="639.6" y="266.2" font-size="8.51" text-anchor="middle" font-weight="normal" fill="#231f20" stroke="#231f20" stroke-width="0.18" font-style="normal" textLength="10.57" lengthAdjust="spacingAndGlyphs" >1.6</text>
<line x1="661.6" y1="258.0" x2="661.6" y2="256.5" stroke="#333" stroke-width="0.6"/>
<text x="661.6" y="266.2" font-size="8.51" text-anchor="middle" font-weight="normal" fill="#231f20" stroke="#231f20" stroke-width="0.18" font-style="normal" textLength="10.57" lengthAdjust="spacingAndGlyphs" >1.8</text>
<path d="M629.6,236.39 L630.95,236.09 L632.3,235.77 L633.65,235.5 L635,235.09 L637,231.55 L638.25,231.73 L639.5,232.15 L640.75,231.88 L642,231.94 L644,234.2 L645,239.76 L646.6,250.82 L647.73,247.76 L648.87,243.69 L650,240.04 L651.5,237.56 L653,235.92 L654.25,236.07 L655.5,235.57 L656.75,236.1 L658,236.12 L658.5,237.6 L659.69,237.68 L660.88,237.09 L662.06,236.85 L663.25,236.12 L664.44,236 L665.62,235.59 L666.81,234.51 L668,234.1 L669.13,235.16 L670.27,235.92 L671.4,236" fill="none" stroke="#111" stroke-width="1.3" stroke-linejoin="round"/>
<path d="M643.6,227.7 L647.2,227.7 L645.4,233.5 Z" fill="#ff00ff"/>
<text x="2.3" y="168" font-size="16" text-anchor="start" font-weight="bold" fill="#231f20" stroke="#231f20" stroke-width="0" font-style="normal" >e</text>
<text x="174" y="167.6" font-size="16" text-anchor="start" font-weight="bold" fill="#231f20" stroke="#231f20" stroke-width="0" font-style="normal" >f</text>
<text x="345.5" y="168" font-size="16" text-anchor="start" font-weight="bold" fill="#231f20" stroke="#231f20" stroke-width="0" font-style="normal" >g</text>
<text x="518.4" y="168" font-size="16" text-anchor="start" font-weight="bold" fill="#231f20" stroke="#231f20" stroke-width="0" font-style="normal" >h</text>
</svg></body></html>
